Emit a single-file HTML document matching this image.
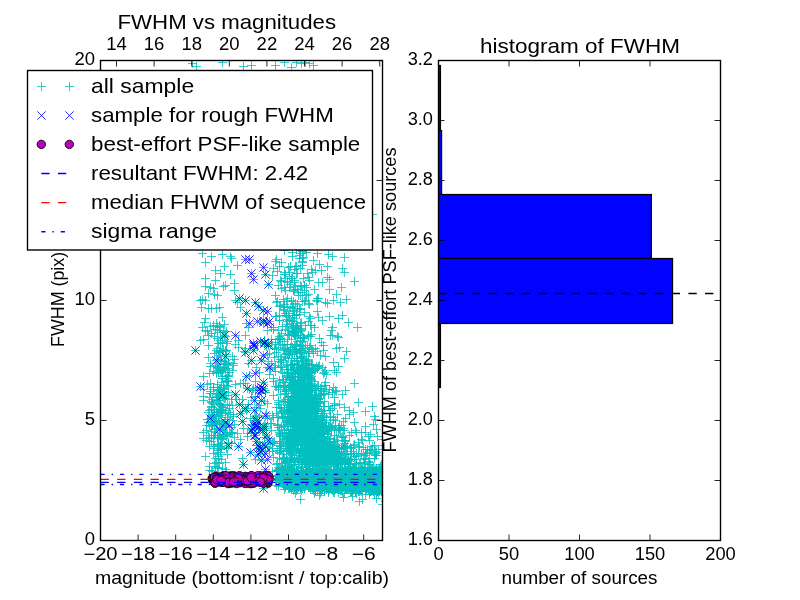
<!DOCTYPE html>
<html><head><meta charset="utf-8"><title>FWHM vs magnitudes</title>
<style>html,body{margin:0;padding:0;background:#fff;}body{width:800px;height:600px;overflow:hidden;font-family:"Liberation Sans",sans-serif;}svg{display:block;}text{font-family:"Liberation Sans",sans-serif;fill:#000;}svg{will-change:transform;opacity:.999}</style>
</head><body>
<svg width="800" height="600" viewBox="0 0 800 600">
<rect width="800" height="600" fill="#fff"/>
<defs><clipPath id="cl"><rect x="100.5" y="60.5" width="282.0" height="480.0"/></clipPath><clipPath id="cr"><rect x="438.5" y="60.5" width="282.0" height="480.0"/></clipPath></defs>
<g clip-path="url(#cl)">
<g stroke="#00bfbf" stroke-width="1" stroke-opacity="0.78" fill="none">
<path d="M295 258.5h9M299.5 254v9M288 247.5h9M292.5 243v9M298 251.5h9M302.5 247v9M280 250.5h9M284.5 246v9M287 278.5h9M291.5 274v9M299 278.5h9M303.5 274v9M284 267.5h9M288.5 263v9M303 273.5h9M307.5 269v9M304 277.5h9M308.5 273v9M297 286.5h9M301.5 282v9M285 287.5h9M289.5 283v9M293 304.5h9M297.5 300v9M287 300.5h9M291.5 296v9M298 292.5h9M302.5 288v9M273 301.5h9M277.5 297v9M279 299.5h9M283.5 295v9M280 307.5h9M284.5 303v9M295 309.5h9M299.5 305v9M282 315.5h9M286.5 311v9M290 311.5h9M294.5 307v9M287 323.5h9M291.5 319v9M304 321.5h9M308.5 317v9M300 312.5h9M304.5 308v9M288 306.5h9M292.5 302v9M223 341.5h9M227.5 337v9M218 337.5h9M222.5 333v9M241 335.5h9M245.5 331v9M293 325.5h9M297.5 321v9M280 341.5h9M284.5 337v9M288 327.5h9M292.5 323v9M290 334.5h9M294.5 330v9M289 332.5h9M293.5 328v9M297 329.5h9M301.5 325v9M298 337.5h9M302.5 333v9M298 341.5h9M302.5 337v9M290 334.5h9M294.5 330v9M307 334.5h9M311.5 330v9M296 335.5h9M300.5 331v9M310 327.5h9M314.5 323v9M215 351.5h9M219.5 347v9M215 352.5h9M219.5 348v9M222 350.5h9M226.5 346v9M204 345.5h9M208.5 341v9M213 359.5h9M217.5 355v9M263 354.5h9M267.5 350v9M296 356.5h9M300.5 352v9M316 355.5h9M320.5 351v9M278 345.5h9M282.5 341v9M274 347.5h9M278.5 343v9M292 349.5h9M296.5 345v9M297 352.5h9M301.5 348v9M294 364.5h9M298.5 360v9M290 351.5h9M294.5 347v9M308 349.5h9M312.5 345v9M291 349.5h9M295.5 345v9M292 348.5h9M296.5 344v9M293 364.5h9M297.5 360v9M304 360.5h9M308.5 356v9M303 363.5h9M307.5 359v9M297 357.5h9M301.5 353v9M262 346.5h9M266.5 342v9M272 349.5h9M276.5 345v9M231 384.5h9M235.5 380v9M236 383.5h9M240.5 379v9M213 367.5h9M217.5 363v9M223 380.5h9M227.5 376v9M209 371.5h9M213.5 367v9M229 365.5h9M233.5 361v9M213 366.5h9M217.5 362v9M265 368.5h9M269.5 364v9M303 369.5h9M307.5 365v9M296 382.5h9M300.5 378v9M293 376.5h9M297.5 372v9M297 368.5h9M301.5 364v9M307 380.5h9M311.5 376v9M298 384.5h9M302.5 380v9M305 370.5h9M309.5 366v9M297 383.5h9M301.5 379v9M286 382.5h9M290.5 378v9M296 368.5h9M300.5 364v9M298 367.5h9M302.5 363v9M293 372.5h9M297.5 368v9M298 377.5h9M302.5 373v9M278 379.5h9M282.5 375v9M277 367.5h9M281.5 363v9M306 379.5h9M310.5 375v9M303 379.5h9M307.5 375v9M282 369.5h9M286.5 365v9M293 383.5h9M297.5 379v9M305 367.5h9M309.5 363v9M312 366.5h9M316.5 362v9M271 371.5h9M275.5 367v9M305 375.5h9M309.5 371v9M289 370.5h9M293.5 366v9M288 382.5h9M292.5 378v9M286 378.5h9M290.5 374v9M220 391.5h9M224.5 387v9M199 400.5h9M203.5 396v9M220 395.5h9M224.5 391v9M216 389.5h9M220.5 385v9M214 393.5h9M218.5 389v9M221 398.5h9M225.5 394v9M213 396.5h9M217.5 392v9M213 400.5h9M217.5 396v9M214 390.5h9M218.5 386v9M219 397.5h9M223.5 393v9M253 387.5h9M257.5 383v9M245 389.5h9M249.5 385v9M308 400.5h9M312.5 396v9M303 400.5h9M307.5 396v9M311 401.5h9M315.5 397v9M305 386.5h9M309.5 382v9M286 401.5h9M290.5 397v9M306 404.5h9M310.5 400v9M288 400.5h9M292.5 396v9M297 404.5h9M301.5 400v9M295 395.5h9M299.5 391v9M289 397.5h9M293.5 393v9M314 403.5h9M318.5 399v9M287 403.5h9M291.5 399v9M289 403.5h9M293.5 399v9M297 404.5h9M301.5 400v9M301 402.5h9M305.5 398v9M300 398.5h9M304.5 394v9M290 398.5h9M294.5 394v9M301 390.5h9M305.5 386v9M295 402.5h9M299.5 398v9M284 402.5h9M288.5 398v9M306 386.5h9M310.5 382v9M300 400.5h9M304.5 396v9M288 396.5h9M292.5 392v9M328 392.5h9M332.5 388v9M317 394.5h9M321.5 390v9M304 388.5h9M308.5 384v9M295 404.5h9M299.5 400v9M305 385.5h9M309.5 381v9M302 387.5h9M306.5 383v9M306 388.5h9M310.5 384v9M315 402.5h9M319.5 398v9M286 387.5h9M290.5 383v9M296 391.5h9M300.5 387v9M284 404.5h9M288.5 400v9M316 393.5h9M320.5 389v9M303 396.5h9M307.5 392v9M320 401.5h9M324.5 397v9M290 402.5h9M294.5 398v9M310 396.5h9M314.5 392v9M304 396.5h9M308.5 392v9M299 403.5h9M303.5 399v9M274 400.5h9M278.5 396v9M292 390.5h9M296.5 386v9M221 413.5h9M225.5 409v9M214 415.5h9M218.5 411v9M207 409.5h9M211.5 405v9M214 412.5h9M218.5 408v9M211 421.5h9M215.5 417v9M228 405.5h9M232.5 401v9M210 414.5h9M214.5 410v9M212 411.5h9M216.5 407v9M219 423.5h9M223.5 419v9M204 412.5h9M208.5 408v9M207 422.5h9M211.5 418v9M207 421.5h9M211.5 417v9M252 415.5h9M256.5 411v9M246 418.5h9M250.5 414v9M292 424.5h9M296.5 420v9M306 421.5h9M310.5 417v9M310 411.5h9M314.5 407v9M322 422.5h9M326.5 418v9M287 409.5h9M291.5 405v9M296 407.5h9M300.5 403v9M298 405.5h9M302.5 401v9M309 408.5h9M313.5 404v9M310 410.5h9M314.5 406v9M292 420.5h9M296.5 416v9M297 416.5h9M301.5 412v9M282 420.5h9M286.5 416v9M291 409.5h9M295.5 405v9M305 408.5h9M309.5 404v9M299 418.5h9M303.5 414v9M300 420.5h9M304.5 416v9M320 413.5h9M324.5 409v9M277 407.5h9M281.5 403v9M300 412.5h9M304.5 408v9M277 412.5h9M281.5 408v9M293 414.5h9M297.5 410v9M296 407.5h9M300.5 403v9M294 416.5h9M298.5 412v9M313 410.5h9M317.5 406v9M305 420.5h9M309.5 416v9M303 405.5h9M307.5 401v9M295 406.5h9M299.5 402v9M319 422.5h9M323.5 418v9M309 408.5h9M313.5 404v9M316 424.5h9M320.5 420v9M285 410.5h9M289.5 406v9M290 415.5h9M294.5 411v9M310 410.5h9M314.5 406v9M309 422.5h9M313.5 418v9M312 416.5h9M316.5 412v9M295 413.5h9M299.5 409v9M301 421.5h9M305.5 417v9M301 423.5h9M305.5 419v9M302 416.5h9M306.5 412v9M309 408.5h9M313.5 404v9M310 412.5h9M314.5 408v9M292 416.5h9M296.5 412v9M309 410.5h9M313.5 406v9M302 420.5h9M306.5 416v9M301 415.5h9M305.5 411v9M294 409.5h9M298.5 405v9M307 411.5h9M311.5 407v9M295 414.5h9M299.5 410v9M319 406.5h9M323.5 402v9M311 413.5h9M315.5 409v9M289 407.5h9M293.5 403v9M316 424.5h9M320.5 420v9M268 415.5h9M272.5 411v9M306 414.5h9M310.5 410v9M281 413.5h9M285.5 409v9M283 422.5h9M287.5 418v9M287 424.5h9M291.5 420v9M283 405.5h9M287.5 401v9M275 407.5h9M279.5 403v9M226 433.5h9M230.5 429v9M225 432.5h9M229.5 428v9M202 430.5h9M206.5 426v9M214 437.5h9M218.5 433v9M218 439.5h9M222.5 435v9M218 430.5h9M222.5 426v9M207 441.5h9M211.5 437v9M205 441.5h9M209.5 437v9M199 438.5h9M203.5 434v9M211 432.5h9M215.5 428v9M261 426.5h9M265.5 422v9M302 433.5h9M306.5 429v9M292 431.5h9M296.5 427v9M292 441.5h9M296.5 437v9M302 438.5h9M306.5 434v9M305 426.5h9M309.5 422v9M309 431.5h9M313.5 427v9M292 426.5h9M296.5 422v9M291 436.5h9M295.5 432v9M295 430.5h9M299.5 426v9M316 437.5h9M320.5 433v9M296 430.5h9M300.5 426v9M289 430.5h9M293.5 426v9M295 436.5h9M299.5 432v9M292 429.5h9M296.5 425v9M340 443.5h9M344.5 439v9M292 426.5h9M296.5 422v9M288 438.5h9M292.5 434v9M299 436.5h9M303.5 432v9M297 438.5h9M301.5 434v9M309 434.5h9M313.5 430v9M306 429.5h9M310.5 425v9M307 428.5h9M311.5 424v9M287 439.5h9M291.5 435v9M309 443.5h9M313.5 439v9M301 428.5h9M305.5 424v9M305 428.5h9M309.5 424v9M304 441.5h9M308.5 437v9M311 444.5h9M315.5 440v9M296 434.5h9M300.5 430v9M300 438.5h9M304.5 434v9M309 437.5h9M313.5 433v9M301 438.5h9M305.5 434v9M309 437.5h9M313.5 433v9M304 428.5h9M308.5 424v9M285 442.5h9M289.5 438v9M287 443.5h9M291.5 439v9M320 439.5h9M324.5 435v9M289 437.5h9M293.5 433v9M282 439.5h9M286.5 435v9M310 439.5h9M314.5 435v9M312 431.5h9M316.5 427v9M283 437.5h9M287.5 433v9M287 435.5h9M291.5 431v9M304 426.5h9M308.5 422v9M292 440.5h9M296.5 436v9M290 438.5h9M294.5 434v9M292 430.5h9M296.5 426v9M304 437.5h9M308.5 433v9M303 429.5h9M307.5 425v9M321 427.5h9M325.5 423v9M297 431.5h9M301.5 427v9M318 433.5h9M322.5 429v9M326 444.5h9M330.5 440v9M300 433.5h9M304.5 429v9M287 444.5h9M291.5 440v9M302 430.5h9M306.5 426v9M309 427.5h9M313.5 423v9M308 436.5h9M312.5 432v9M303 441.5h9M307.5 437v9M269 442.5h9M273.5 438v9M304 426.5h9M308.5 422v9M279 441.5h9M283.5 437v9M337 425.5h9M341.5 421v9M310 437.5h9M314.5 433v9M317 427.5h9M321.5 423v9M327 427.5h9M331.5 423v9M320 442.5h9M324.5 438v9M336 430.5h9M340.5 426v9M288 435.5h9M292.5 431v9M266 444.5h9M270.5 440v9M309 438.5h9M313.5 434v9M285 433.5h9M289.5 429v9M338 436.5h9M342.5 432v9M358 440.5h9M362.5 436v9M361 426.5h9M365.5 422v9M217 448.5h9M221.5 444v9M214 456.5h9M218.5 452v9M213 450.5h9M217.5 446v9M223 454.5h9M227.5 450v9M311 457.5h9M315.5 453v9M325 463.5h9M329.5 459v9M307 445.5h9M311.5 441v9M345 464.5h9M349.5 460v9M321 445.5h9M325.5 441v9M311 455.5h9M315.5 451v9M297 464.5h9M301.5 460v9M357 453.5h9M361.5 449v9M298 464.5h9M302.5 460v9M329 446.5h9M333.5 442v9M290 464.5h9M294.5 460v9M341 458.5h9M345.5 454v9M317 463.5h9M321.5 459v9M327 460.5h9M331.5 456v9M345 461.5h9M349.5 457v9M314 445.5h9M318.5 441v9M326 451.5h9M330.5 447v9M301 459.5h9M305.5 455v9M331 460.5h9M335.5 456v9M327 447.5h9M331.5 443v9M309 449.5h9M313.5 445v9M323 460.5h9M327.5 456v9M309 455.5h9M313.5 451v9M334 460.5h9M338.5 456v9M317 452.5h9M321.5 448v9M325 447.5h9M329.5 443v9M318 446.5h9M322.5 442v9M323 453.5h9M327.5 449v9M303 457.5h9M307.5 453v9M299 450.5h9M303.5 446v9M330 462.5h9M334.5 458v9M301 452.5h9M305.5 448v9M301 461.5h9M305.5 457v9M329 461.5h9M333.5 457v9M309 455.5h9M313.5 451v9M322 460.5h9M326.5 456v9M309 462.5h9M313.5 458v9M295 453.5h9M299.5 449v9M311 453.5h9M315.5 449v9M283 462.5h9M287.5 458v9M303 455.5h9M307.5 451v9M304 452.5h9M308.5 448v9M305 457.5h9M309.5 453v9M314 459.5h9M318.5 455v9M300 459.5h9M304.5 455v9M326 447.5h9M330.5 443v9M326 448.5h9M330.5 444v9M310 454.5h9M314.5 450v9M328 458.5h9M332.5 454v9M286 453.5h9M290.5 449v9M292 451.5h9M296.5 447v9M331 452.5h9M335.5 448v9M295 452.5h9M299.5 448v9M310 446.5h9M314.5 442v9M306 446.5h9M310.5 442v9M291 445.5h9M295.5 441v9M297 452.5h9M301.5 448v9M323 452.5h9M327.5 448v9M324 451.5h9M328.5 447v9M312 460.5h9M316.5 456v9M303 457.5h9M307.5 453v9M300 450.5h9M304.5 446v9M304 456.5h9M308.5 452v9M336 459.5h9M340.5 455v9M330 463.5h9M334.5 459v9M308 459.5h9M312.5 455v9M323 445.5h9M327.5 441v9M298 448.5h9M302.5 444v9M318 463.5h9M322.5 459v9M316 461.5h9M320.5 457v9M294 448.5h9M298.5 444v9M344 464.5h9M348.5 460v9M322 457.5h9M326.5 453v9M299 451.5h9M303.5 447v9M335 458.5h9M339.5 454v9M352 456.5h9M356.5 452v9M359 447.5h9M363.5 443v9M286 448.5h9M290.5 444v9M288 446.5h9M292.5 442v9M330 453.5h9M334.5 449v9M323 446.5h9M327.5 442v9M279 458.5h9M283.5 454v9M288 458.5h9M292.5 454v9M279 451.5h9M283.5 447v9M346 459.5h9M350.5 455v9M320 448.5h9M324.5 444v9M333 460.5h9M337.5 456v9M340 459.5h9M344.5 455v9M282 451.5h9M286.5 447v9M290 450.5h9M294.5 446v9M303 452.5h9M307.5 448v9M320 451.5h9M324.5 447v9M329 452.5h9M333.5 448v9M276 450.5h9M280.5 446v9M361 455.5h9M365.5 451v9M371 451.5h9M375.5 447v9M378 445.5h9M382.5 441v9M327 481.5h9M331.5 477v9M305 480.5h9M309.5 476v9M323 469.5h9M327.5 465v9M378 464.5h9M382.5 460v9M356 476.5h9M360.5 472v9M356 472.5h9M360.5 468v9M283 483.5h9M287.5 479v9M368 468.5h9M372.5 464v9M290 476.5h9M294.5 472v9M334 472.5h9M338.5 468v9M326 480.5h9M330.5 476v9M321 473.5h9M325.5 469v9M321 474.5h9M325.5 470v9M293 470.5h9M297.5 466v9M281 475.5h9M285.5 471v9M345 471.5h9M349.5 467v9M296 474.5h9M300.5 470v9M276 478.5h9M280.5 474v9M339 474.5h9M343.5 470v9M327 478.5h9M331.5 474v9M378 468.5h9M382.5 464v9M281 487.5h9M285.5 483v9M364 484.5h9M368.5 480v9M335 480.5h9M339.5 476v9M322 476.5h9M326.5 472v9M274 467.5h9M278.5 463v9M332 486.5h9M336.5 482v9M361 483.5h9M365.5 479v9M272 476.5h9M276.5 472v9M311 476.5h9M315.5 472v9M325 477.5h9M329.5 473v9M298 473.5h9M302.5 469v9M337 476.5h9M341.5 472v9M329 473.5h9M333.5 469v9M328 474.5h9M332.5 470v9M363 472.5h9M367.5 468v9M306 469.5h9M310.5 465v9M283 484.5h9M287.5 480v9M317 476.5h9M321.5 472v9M365 471.5h9M369.5 467v9M318 467.5h9M322.5 463v9M382 484.5h9M386.5 480v9M359 483.5h9M363.5 479v9M310 477.5h9M314.5 473v9M370 484.5h9M374.5 480v9M277 476.5h9M281.5 472v9M337 488.5h9M341.5 484v9M305 471.5h9M309.5 467v9M333 470.5h9M337.5 466v9M353 480.5h9M357.5 476v9M374 484.5h9M378.5 480v9M370 479.5h9M374.5 475v9M324 478.5h9M328.5 474v9M321 475.5h9M325.5 471v9M373 480.5h9M377.5 476v9M358 471.5h9M362.5 467v9M339 482.5h9M343.5 478v9M284 488.5h9M288.5 484v9M364 474.5h9M368.5 470v9M320 474.5h9M324.5 470v9M292 473.5h9M296.5 469v9M370 470.5h9M374.5 466v9M275 471.5h9M279.5 467v9M350 470.5h9M354.5 466v9M339 477.5h9M343.5 473v9M293 471.5h9M297.5 467v9M368 475.5h9M372.5 471v9M321 481.5h9M325.5 477v9M297 480.5h9M301.5 476v9M360 468.5h9M364.5 464v9M379 485.5h9M383.5 481v9M276 472.5h9M280.5 468v9M332 465.5h9M336.5 461v9M320 482.5h9M324.5 478v9M351 474.5h9M355.5 470v9M355 471.5h9M359.5 467v9M332 479.5h9M336.5 475v9M287 481.5h9M291.5 477v9M314 476.5h9M318.5 472v9M278 471.5h9M282.5 467v9M328 481.5h9M332.5 477v9M384 465.5h9M388.5 461v9M323 477.5h9M327.5 473v9M310 474.5h9M314.5 470v9M318 475.5h9M322.5 471v9M375 480.5h9M379.5 476v9M382 473.5h9M386.5 469v9M371 477.5h9M375.5 473v9M316 476.5h9M320.5 472v9M347 483.5h9M351.5 479v9M338 477.5h9M342.5 473v9M345 473.5h9M349.5 469v9M344 485.5h9M348.5 481v9M365 481.5h9M369.5 477v9M306 473.5h9M310.5 469v9M280 481.5h9M284.5 477v9M382 480.5h9M386.5 476v9M351 473.5h9M355.5 469v9M361 473.5h9M365.5 469v9M333 470.5h9M337.5 466v9M298 476.5h9M302.5 472v9M372 480.5h9M376.5 476v9M291 478.5h9M295.5 474v9M340 471.5h9M344.5 467v9M280 479.5h9M284.5 475v9M346 466.5h9M350.5 462v9M360 483.5h9M364.5 479v9M330 477.5h9M334.5 473v9M374 478.5h9M378.5 474v9M312 486.5h9M316.5 482v9M355 477.5h9M359.5 473v9M348 475.5h9M352.5 471v9M310 465.5h9M314.5 461v9M330 472.5h9M334.5 468v9M376 482.5h9M380.5 478v9M379 474.5h9M383.5 470v9M303 474.5h9M307.5 470v9M357 474.5h9M361.5 470v9M273 475.5h9M277.5 471v9M375 477.5h9M379.5 473v9M274 470.5h9M278.5 466v9M374 473.5h9M378.5 469v9M376 470.5h9M380.5 466v9M337 480.5h9M341.5 476v9M374 473.5h9M378.5 469v9M303 471.5h9M307.5 467v9M330 475.5h9M334.5 471v9M353 485.5h9M357.5 481v9M329 476.5h9M333.5 472v9M304 475.5h9M308.5 471v9M345 476.5h9M349.5 472v9M346 473.5h9M350.5 469v9M308 482.5h9M312.5 478v9M289 474.5h9M293.5 470v9M356 477.5h9M360.5 473v9M321 477.5h9M325.5 473v9M316 471.5h9M320.5 467v9M340 475.5h9M344.5 471v9M289 471.5h9M293.5 467v9M307 472.5h9M311.5 468v9M311 479.5h9M315.5 475v9M379 470.5h9M383.5 466v9M338 464.5h9M342.5 460v9M357 477.5h9M361.5 473v9M315 472.5h9M319.5 468v9M370 473.5h9M374.5 469v9M347 481.5h9M351.5 477v9M290 486.5h9M294.5 482v9M350 474.5h9M354.5 470v9M289 484.5h9M293.5 480v9M211 466.5h9M215.5 462v9M214 467.5h9M218.5 463v9M346 491.5h9M350.5 487v9M354 491.5h9M358.5 487v9M371 490.5h9M375.5 486v9M350 486.5h9M354.5 482v9M366 487.5h9M370.5 483v9M324 492.5h9M328.5 488v9M286 487.5h9M290.5 483v9M310 493.5h9M314.5 489v9M309 490.5h9M313.5 486v9M318 489.5h9M322.5 485v9M371 487.5h9M375.5 483v9M315 495.5h9M319.5 491v9M343 488.5h9M347.5 484v9M371 488.5h9M375.5 484v9M381 501.5h9M385.5 497v9M294 487.5h9M298.5 483v9M290 487.5h9M294.5 483v9M331 489.5h9M335.5 485v9M329 488.5h9M333.5 484v9M339 487.5h9M343.5 483v9M315 486.5h9M319.5 482v9M369 491.5h9M373.5 487v9M297 484.5h9M301.5 480v9M312 483.5h9M316.5 479v9M284 484.5h9M288.5 480v9M303 483.5h9M307.5 479v9M318 488.5h9M322.5 484v9M299 484.5h9M303.5 480v9M349 484.5h9M353.5 480v9M345 487.5h9M349.5 483v9M370 487.5h9M374.5 483v9M314 483.5h9M318.5 479v9M340 484.5h9M344.5 480v9M358 483.5h9M362.5 479v9M370 492.5h9M374.5 488v9M346 483.5h9M350.5 479v9M348 486.5h9M352.5 482v9M290 485.5h9M294.5 481v9M322 489.5h9M326.5 485v9M298 483.5h9M302.5 479v9M325 489.5h9M329.5 485v9M337 490.5h9M341.5 486v9M296 487.5h9M300.5 483v9M364 483.5h9M368.5 479v9M337 484.5h9M341.5 480v9M297 487.5h9M301.5 483v9M352 488.5h9M356.5 484v9M360 487.5h9M364.5 483v9M330 483.5h9M334.5 479v9M360 486.5h9M364.5 482v9M284 484.5h9M288.5 480v9M327 489.5h9M331.5 485v9M347 491.5h9M351.5 487v9M379 492.5h9M383.5 488v9M340 484.5h9M344.5 480v9M363 487.5h9M367.5 483v9M358 486.5h9M362.5 482v9M333 487.5h9M337.5 483v9M336 487.5h9M340.5 483v9M365 489.5h9M369.5 485v9M319 486.5h9M323.5 482v9M296 499.5h9M300.5 495v9M271 65.5h9M275.5 61v9M305 63.5h9M309.5 59v9M313 253.5h9M317.5 249v9M308 272.5h9M312.5 268v9M314 282.5h9M318.5 278v9M329 300.5h9M333.5 296v9M325 316.5h9M329.5 312v9M328 327.5h9M332.5 323v9M334 337.5h9M338.5 333v9M340 358.5h9M344.5 354v9M314 366.5h9M318.5 362v9M328 392.5h9M332.5 388v9M345 410.5h9M349.5 406v9M350 422.5h9M354.5 418v9M357 439.5h9M361.5 435v9M207 256.5h9M211.5 252v9M233 265.5h9M237.5 261v9M230 283.5h9M234.5 279v9M230 290.5h9M234.5 286v9M196 300.5h9M200.5 296v9M207 308.5h9M211.5 304v9M212 323.5h9M216.5 319v9M201 330.5h9M205.5 326v9M204 335.5h9M208.5 331v9M271 261.5h9M275.5 257v9M245 259.5h9M249.5 255v9M235 298.5h9M239.5 294v9M242 313.5h9M246.5 309v9M220 335.5h9M224.5 331v9M191 350.5h9M195.5 346v9M264 345.5h9M268.5 341v9M242 376.5h9M246.5 372v9M218 395.5h9M222.5 391v9M250 410.5h9M254.5 406v9M221 422.5h9M225.5 418v9M250 435.5h9M254.5 431v9M251 435.5h9M255.5 431v9M246 452.5h9M250.5 448v9M261 469.5h9M265.5 465v9M255 393.5h9M259.5 389v9M261 446.5h9M265.5 442v9"/>
<path d="M299 246.5h9M303.5 242v9M301 249.5h9M305.5 245v9M298 261.5h9M302.5 257v9M298 258.5h9M302.5 254v9M290 280.5h9M294.5 276v9M286 266.5h9M290.5 262v9M291 266.5h9M295.5 262v9M283 282.5h9M287.5 278v9M292 266.5h9M296.5 262v9M300 285.5h9M304.5 281v9M300 301.5h9M304.5 297v9M294 295.5h9M298.5 291v9M296 295.5h9M300.5 291v9M274 285.5h9M278.5 281v9M283 298.5h9M287.5 294v9M280 287.5h9M284.5 283v9M314 317.5h9M318.5 313v9M281 313.5h9M285.5 309v9M276 305.5h9M280.5 301v9M275 320.5h9M279.5 316v9M275 315.5h9M279.5 311v9M275 306.5h9M279.5 302v9M293 308.5h9M297.5 304v9M231 344.5h9M235.5 340v9M216 343.5h9M220.5 339v9M218 342.5h9M222.5 338v9M244 327.5h9M248.5 323v9M297 330.5h9M301.5 326v9M294 332.5h9M298.5 328v9M292 326.5h9M296.5 322v9M297 328.5h9M301.5 324v9M290 334.5h9M294.5 330v9M291 336.5h9M295.5 332v9M301 325.5h9M305.5 321v9M275 336.5h9M279.5 332v9M260 340.5h9M264.5 336v9M296 340.5h9M300.5 336v9M284 334.5h9M288.5 330v9M292 344.5h9M296.5 340v9M221 351.5h9M225.5 347v9M224 364.5h9M228.5 360v9M214 355.5h9M218.5 351v9M213 359.5h9M217.5 355v9M222 364.5h9M226.5 360v9M244 363.5h9M248.5 359v9M304 353.5h9M308.5 349v9M280 349.5h9M284.5 345v9M288 354.5h9M292.5 350v9M299 358.5h9M303.5 354v9M304 351.5h9M308.5 347v9M295 345.5h9M299.5 341v9M290 345.5h9M294.5 341v9M281 348.5h9M285.5 344v9M293 364.5h9M297.5 360v9M297 346.5h9M301.5 342v9M306 345.5h9M310.5 341v9M272 352.5h9M276.5 348v9M267 363.5h9M271.5 359v9M296 349.5h9M300.5 345v9M279 360.5h9M283.5 356v9M288 349.5h9M292.5 345v9M217 382.5h9M221.5 378v9M224 381.5h9M228.5 377v9M205 373.5h9M209.5 369v9M218 376.5h9M222.5 372v9M214 367.5h9M218.5 363v9M223 376.5h9M227.5 372v9M223 381.5h9M227.5 377v9M255 372.5h9M259.5 368v9M241 383.5h9M245.5 379v9M307 373.5h9M311.5 369v9M308 365.5h9M312.5 361v9M303 373.5h9M307.5 369v9M287 374.5h9M291.5 370v9M302 375.5h9M306.5 371v9M291 374.5h9M295.5 370v9M310 381.5h9M314.5 377v9M300 378.5h9M304.5 374v9M292 367.5h9M296.5 363v9M287 379.5h9M291.5 375v9M296 377.5h9M300.5 373v9M298 369.5h9M302.5 365v9M298 382.5h9M302.5 378v9M302 369.5h9M306.5 365v9M290 368.5h9M294.5 364v9M287 365.5h9M291.5 361v9M297 378.5h9M301.5 374v9M279 382.5h9M283.5 378v9M301 377.5h9M305.5 373v9M270 367.5h9M274.5 363v9M307 383.5h9M311.5 379v9M286 365.5h9M290.5 361v9M281 382.5h9M285.5 378v9M321 370.5h9M325.5 366v9M266 369.5h9M270.5 365v9M310 368.5h9M314.5 364v9M222 395.5h9M226.5 391v9M232 399.5h9M236.5 395v9M205 397.5h9M209.5 393v9M208 399.5h9M212.5 395v9M214 400.5h9M218.5 396v9M214 400.5h9M218.5 396v9M216 395.5h9M220.5 391v9M209 387.5h9M213.5 383v9M209 389.5h9M213.5 385v9M251 396.5h9M255.5 392v9M261 392.5h9M265.5 388v9M282 391.5h9M286.5 387v9M281 387.5h9M285.5 383v9M304 391.5h9M308.5 387v9M289 388.5h9M293.5 384v9M307 394.5h9M311.5 390v9M293 392.5h9M297.5 388v9M295 395.5h9M299.5 391v9M300 389.5h9M304.5 385v9M309 398.5h9M313.5 394v9M280 385.5h9M284.5 381v9M290 398.5h9M294.5 394v9M302 398.5h9M306.5 394v9M304 386.5h9M308.5 382v9M306 404.5h9M310.5 400v9M294 386.5h9M298.5 382v9M284 399.5h9M288.5 395v9M299 401.5h9M303.5 397v9M294 387.5h9M298.5 383v9M287 386.5h9M291.5 382v9M307 392.5h9M311.5 388v9M290 385.5h9M294.5 381v9M294 396.5h9M298.5 392v9M305 400.5h9M309.5 396v9M297 388.5h9M301.5 384v9M307 387.5h9M311.5 383v9M297 396.5h9M301.5 392v9M300 386.5h9M304.5 382v9M301 390.5h9M305.5 386v9M298 390.5h9M302.5 386v9M298 400.5h9M302.5 396v9M306 389.5h9M310.5 385v9M291 387.5h9M295.5 383v9M300 389.5h9M304.5 385v9M316 388.5h9M320.5 384v9M330 403.5h9M334.5 399v9M322 389.5h9M326.5 385v9M274 386.5h9M278.5 382v9M291 388.5h9M295.5 384v9M324 394.5h9M328.5 390v9M303 395.5h9M307.5 391v9M311 388.5h9M315.5 384v9M316 401.5h9M320.5 397v9M330 397.5h9M334.5 393v9M289 397.5h9M293.5 393v9M221 410.5h9M225.5 406v9M208 417.5h9M212.5 413v9M229 416.5h9M233.5 412v9M218 413.5h9M222.5 409v9M207 421.5h9M211.5 417v9M228 420.5h9M232.5 416v9M223 419.5h9M227.5 415v9M218 407.5h9M222.5 403v9M225 405.5h9M229.5 401v9M215 412.5h9M219.5 408v9M213 424.5h9M217.5 420v9M252 407.5h9M256.5 403v9M243 408.5h9M247.5 404v9M238 411.5h9M242.5 407v9M290 416.5h9M294.5 412v9M287 406.5h9M291.5 402v9M292 413.5h9M296.5 409v9M306 411.5h9M310.5 407v9M310 411.5h9M314.5 407v9M312 415.5h9M316.5 411v9M307 418.5h9M311.5 414v9M284 412.5h9M288.5 408v9M311 422.5h9M315.5 418v9M297 412.5h9M301.5 408v9M295 412.5h9M299.5 408v9M312 422.5h9M316.5 418v9M286 421.5h9M290.5 417v9M301 411.5h9M305.5 407v9M310 411.5h9M314.5 407v9M304 409.5h9M308.5 405v9M312 423.5h9M316.5 419v9M298 420.5h9M302.5 416v9M303 413.5h9M307.5 409v9M307 410.5h9M311.5 406v9M288 420.5h9M292.5 416v9M289 411.5h9M293.5 407v9M272 407.5h9M276.5 403v9M294 409.5h9M298.5 405v9M297 421.5h9M301.5 417v9M293 416.5h9M297.5 412v9M312 418.5h9M316.5 414v9M300 420.5h9M304.5 416v9M280 410.5h9M284.5 406v9M289 424.5h9M293.5 420v9M301 411.5h9M305.5 407v9M294 416.5h9M298.5 412v9M306 414.5h9M310.5 410v9M304 416.5h9M308.5 412v9M322 420.5h9M326.5 416v9M314 422.5h9M318.5 418v9M284 407.5h9M288.5 403v9M295 418.5h9M299.5 414v9M293 410.5h9M297.5 406v9M300 415.5h9M304.5 411v9M316 422.5h9M320.5 418v9M308 412.5h9M312.5 408v9M311 410.5h9M315.5 406v9M279 417.5h9M283.5 413v9M283 417.5h9M287.5 413v9M305 411.5h9M309.5 407v9M303 419.5h9M307.5 415v9M326 410.5h9M330.5 406v9M320 422.5h9M324.5 418v9M269 417.5h9M273.5 413v9M319 406.5h9M323.5 402v9M301 410.5h9M305.5 406v9M304 408.5h9M308.5 404v9M292 423.5h9M296.5 419v9M284 409.5h9M288.5 405v9M280 418.5h9M284.5 414v9M266 423.5h9M270.5 419v9M295 409.5h9M299.5 405v9M345 414.5h9M349.5 410v9M219 436.5h9M223.5 432v9M207 431.5h9M211.5 427v9M205 437.5h9M209.5 433v9M210 435.5h9M214.5 431v9M228 432.5h9M232.5 428v9M227 443.5h9M231.5 439v9M215 429.5h9M219.5 425v9M227 427.5h9M231.5 423v9M233 433.5h9M237.5 429v9M222 425.5h9M226.5 421v9M255 442.5h9M259.5 438v9M295 437.5h9M299.5 433v9M317 426.5h9M321.5 422v9M308 433.5h9M312.5 429v9M307 436.5h9M311.5 432v9M289 438.5h9M293.5 434v9M300 435.5h9M304.5 431v9M304 431.5h9M308.5 427v9M308 432.5h9M312.5 428v9M300 440.5h9M304.5 436v9M309 425.5h9M313.5 421v9M289 429.5h9M293.5 425v9M313 443.5h9M317.5 439v9M299 428.5h9M303.5 424v9M316 435.5h9M320.5 431v9M286 435.5h9M290.5 431v9M296 427.5h9M300.5 423v9M328 426.5h9M332.5 422v9M303 440.5h9M307.5 436v9M314 428.5h9M318.5 424v9M300 435.5h9M304.5 431v9M310 442.5h9M314.5 438v9M324 430.5h9M328.5 426v9M293 426.5h9M297.5 422v9M292 425.5h9M296.5 421v9M310 429.5h9M314.5 425v9M287 437.5h9M291.5 433v9M298 443.5h9M302.5 439v9M297 435.5h9M301.5 431v9M307 443.5h9M311.5 439v9M307 441.5h9M311.5 437v9M293 434.5h9M297.5 430v9M292 441.5h9M296.5 437v9M329 442.5h9M333.5 438v9M304 443.5h9M308.5 439v9M324 438.5h9M328.5 434v9M302 434.5h9M306.5 430v9M292 425.5h9M296.5 421v9M317 430.5h9M321.5 426v9M326 438.5h9M330.5 434v9M300 428.5h9M304.5 424v9M302 433.5h9M306.5 429v9M312 440.5h9M316.5 436v9M325 430.5h9M329.5 426v9M313 435.5h9M317.5 431v9M291 432.5h9M295.5 428v9M302 443.5h9M306.5 439v9M313 441.5h9M317.5 437v9M282 442.5h9M286.5 438v9M313 426.5h9M317.5 422v9M305 430.5h9M309.5 426v9M297 436.5h9M301.5 432v9M307 426.5h9M311.5 422v9M304 431.5h9M308.5 427v9M311 430.5h9M315.5 426v9M298 439.5h9M302.5 435v9M288 432.5h9M292.5 428v9M292 427.5h9M296.5 423v9M309 435.5h9M313.5 431v9M293 441.5h9M297.5 437v9M307 437.5h9M311.5 433v9M304 433.5h9M308.5 429v9M318 439.5h9M322.5 435v9M326 427.5h9M330.5 423v9M309 440.5h9M313.5 436v9M345 435.5h9M349.5 431v9M320 436.5h9M324.5 432v9M277 443.5h9M281.5 439v9M285 433.5h9M289.5 429v9M339 428.5h9M343.5 424v9M284 433.5h9M288.5 429v9M286 426.5h9M290.5 422v9M325 426.5h9M329.5 422v9M321 428.5h9M325.5 424v9M352 432.5h9M356.5 428v9M214 458.5h9M218.5 454v9M216 449.5h9M220.5 445v9M221 462.5h9M225.5 458v9M215 463.5h9M219.5 459v9M222 448.5h9M226.5 444v9M308 461.5h9M312.5 457v9M324 445.5h9M328.5 441v9M325 454.5h9M329.5 450v9M302 464.5h9M306.5 460v9M303 454.5h9M307.5 450v9M283 446.5h9M287.5 442v9M309 453.5h9M313.5 449v9M281 461.5h9M285.5 457v9M316 462.5h9M320.5 458v9M312 454.5h9M316.5 450v9M316 453.5h9M320.5 449v9M314 449.5h9M318.5 445v9M299 459.5h9M303.5 455v9M326 457.5h9M330.5 453v9M330 448.5h9M334.5 444v9M315 459.5h9M319.5 455v9M297 450.5h9M301.5 446v9M303 448.5h9M307.5 444v9M316 456.5h9M320.5 452v9M321 447.5h9M325.5 443v9M307 458.5h9M311.5 454v9M326 464.5h9M330.5 460v9M336 462.5h9M340.5 458v9M319 452.5h9M323.5 448v9M277 463.5h9M281.5 459v9M290 450.5h9M294.5 446v9M307 447.5h9M311.5 443v9M309 449.5h9M313.5 445v9M309 459.5h9M313.5 455v9M263 447.5h9M267.5 443v9M311 460.5h9M315.5 456v9M304 447.5h9M308.5 443v9M341 460.5h9M345.5 456v9M295 461.5h9M299.5 457v9M299 460.5h9M303.5 456v9M314 446.5h9M318.5 442v9M278 459.5h9M282.5 455v9M332 449.5h9M336.5 445v9M310 446.5h9M314.5 442v9M332 452.5h9M336.5 448v9M309 464.5h9M313.5 460v9M324 445.5h9M328.5 441v9M319 457.5h9M323.5 453v9M313 450.5h9M317.5 446v9M310 461.5h9M314.5 457v9M290 464.5h9M294.5 460v9M315 448.5h9M319.5 444v9M321 447.5h9M325.5 443v9M306 462.5h9M310.5 458v9M307 458.5h9M311.5 454v9M334 453.5h9M338.5 449v9M326 455.5h9M330.5 451v9M301 463.5h9M305.5 459v9M317 449.5h9M321.5 445v9M330 448.5h9M334.5 444v9M322 445.5h9M326.5 441v9M331 452.5h9M335.5 448v9M313 455.5h9M317.5 451v9M281 462.5h9M285.5 458v9M312 460.5h9M316.5 456v9M307 450.5h9M311.5 446v9M306 462.5h9M310.5 458v9M332 453.5h9M336.5 449v9M312 457.5h9M316.5 453v9M331 456.5h9M335.5 452v9M329 446.5h9M333.5 442v9M306 462.5h9M310.5 458v9M334 447.5h9M338.5 443v9M320 457.5h9M324.5 453v9M302 449.5h9M306.5 445v9M326 454.5h9M330.5 450v9M323 456.5h9M327.5 452v9M275 458.5h9M279.5 454v9M326 464.5h9M330.5 460v9M361 458.5h9M365.5 454v9M347 448.5h9M351.5 444v9M337 452.5h9M341.5 448v9M277 448.5h9M281.5 444v9M310 460.5h9M314.5 456v9M289 449.5h9M293.5 445v9M314 459.5h9M318.5 455v9M360 458.5h9M364.5 454v9M315 463.5h9M319.5 459v9M268 451.5h9M272.5 447v9M275 445.5h9M279.5 441v9M314 452.5h9M318.5 448v9M316 455.5h9M320.5 451v9M288 458.5h9M292.5 454v9M279 454.5h9M283.5 450v9M356 462.5h9M360.5 458v9M265 451.5h9M269.5 447v9M269 457.5h9M273.5 453v9M273 450.5h9M277.5 446v9M368 446.5h9M372.5 442v9M367 449.5h9M371.5 445v9M377 464.5h9M381.5 460v9M370 458.5h9M374.5 454v9M284 476.5h9M288.5 472v9M361 474.5h9M365.5 470v9M332 473.5h9M336.5 469v9M322 472.5h9M326.5 468v9M376 484.5h9M380.5 480v9M293 482.5h9M297.5 478v9M323 480.5h9M327.5 476v9M357 478.5h9M361.5 474v9M315 475.5h9M319.5 471v9M329 478.5h9M333.5 474v9M320 482.5h9M324.5 478v9M314 481.5h9M318.5 477v9M335 474.5h9M339.5 470v9M348 476.5h9M352.5 472v9M350 478.5h9M354.5 474v9M355 478.5h9M359.5 474v9M271 479.5h9M275.5 475v9M284 477.5h9M288.5 473v9M279 469.5h9M283.5 465v9M324 475.5h9M328.5 471v9M339 480.5h9M343.5 476v9M313 478.5h9M317.5 474v9M356 472.5h9M360.5 468v9M287 482.5h9M291.5 478v9M298 477.5h9M302.5 473v9M343 473.5h9M347.5 469v9M316 478.5h9M320.5 474v9M371 477.5h9M375.5 473v9M372 481.5h9M376.5 477v9M274 480.5h9M278.5 476v9M354 469.5h9M358.5 465v9M306 469.5h9M310.5 465v9M329 464.5h9M333.5 460v9M342 473.5h9M346.5 469v9M361 479.5h9M365.5 475v9M376 472.5h9M380.5 468v9M363 474.5h9M367.5 470v9M325 473.5h9M329.5 469v9M311 484.5h9M315.5 480v9M321 470.5h9M325.5 466v9M317 480.5h9M321.5 476v9M345 472.5h9M349.5 468v9M295 479.5h9M299.5 475v9M372 472.5h9M376.5 468v9M318 474.5h9M322.5 470v9M351 473.5h9M355.5 469v9M342 474.5h9M346.5 470v9M351 471.5h9M355.5 467v9M278 472.5h9M282.5 468v9M313 478.5h9M317.5 474v9M346 474.5h9M350.5 470v9M285 477.5h9M289.5 473v9M368 474.5h9M372.5 470v9M353 477.5h9M357.5 473v9M373 486.5h9M377.5 482v9M343 480.5h9M347.5 476v9M377 475.5h9M381.5 471v9M354 478.5h9M358.5 474v9M345 476.5h9M349.5 472v9M299 476.5h9M303.5 472v9M359 479.5h9M363.5 475v9M332 476.5h9M336.5 472v9M320 473.5h9M324.5 469v9M316 484.5h9M320.5 480v9M373 474.5h9M377.5 470v9M378 474.5h9M382.5 470v9M336 484.5h9M340.5 480v9M365 481.5h9M369.5 477v9M347 475.5h9M351.5 471v9M368 473.5h9M372.5 469v9M285 472.5h9M289.5 468v9M287 480.5h9M291.5 476v9M330 478.5h9M334.5 474v9M309 478.5h9M313.5 474v9M337 478.5h9M341.5 474v9M314 483.5h9M318.5 479v9M370 471.5h9M374.5 467v9M344 468.5h9M348.5 464v9M378 468.5h9M382.5 464v9M327 473.5h9M331.5 469v9M361 474.5h9M365.5 470v9M298 477.5h9M302.5 473v9M322 473.5h9M326.5 469v9M361 485.5h9M365.5 481v9M377 477.5h9M381.5 473v9M337 483.5h9M341.5 479v9M295 474.5h9M299.5 470v9M315 473.5h9M319.5 469v9M292 468.5h9M296.5 464v9M297 480.5h9M301.5 476v9M317 472.5h9M321.5 468v9M312 475.5h9M316.5 471v9M321 474.5h9M325.5 470v9M313 475.5h9M317.5 471v9M274 479.5h9M278.5 475v9M361 475.5h9M365.5 471v9M297 480.5h9M301.5 476v9M365 469.5h9M369.5 465v9M333 478.5h9M337.5 474v9M358 476.5h9M362.5 472v9M298 480.5h9M302.5 476v9M336 478.5h9M340.5 474v9M369 467.5h9M373.5 463v9M366 472.5h9M370.5 468v9M343 480.5h9M347.5 476v9M378 472.5h9M382.5 468v9M330 474.5h9M334.5 470v9M268 471.5h9M272.5 467v9M375 470.5h9M379.5 466v9M297 481.5h9M301.5 477v9M325 478.5h9M329.5 474v9M370 474.5h9M374.5 470v9M374 475.5h9M378.5 471v9M304 475.5h9M308.5 471v9M273 475.5h9M277.5 471v9M359 470.5h9M363.5 466v9M362 472.5h9M366.5 468v9M376 474.5h9M380.5 470v9M340 470.5h9M344.5 466v9M348 477.5h9M352.5 473v9M367 472.5h9M371.5 468v9M276 469.5h9M280.5 465v9M364 478.5h9M368.5 474v9M289 476.5h9M293.5 472v9M325 482.5h9M329.5 478v9M277 476.5h9M281.5 472v9M324 480.5h9M328.5 476v9M332 466.5h9M336.5 462v9M296 471.5h9M300.5 467v9M365 474.5h9M369.5 470v9M368 480.5h9M372.5 476v9M358 470.5h9M362.5 466v9M329 472.5h9M333.5 468v9M345 479.5h9M349.5 475v9M315 474.5h9M319.5 470v9M290 478.5h9M294.5 474v9M324 478.5h9M328.5 474v9M383 467.5h9M387.5 463v9M367 482.5h9M371.5 478v9M343 476.5h9M347.5 472v9M376 471.5h9M380.5 467v9M278 474.5h9M282.5 470v9M304 471.5h9M308.5 467v9M357 470.5h9M361.5 466v9M372 475.5h9M376.5 471v9M356 470.5h9M360.5 466v9M334 476.5h9M338.5 472v9M322 482.5h9M326.5 478v9M318 481.5h9M322.5 477v9M375 485.5h9M379.5 481v9M213 468.5h9M217.5 464v9M316 486.5h9M320.5 482v9M308 487.5h9M312.5 483v9M317 490.5h9M321.5 486v9M320 491.5h9M324.5 487v9M313 490.5h9M317.5 486v9M309 487.5h9M313.5 483v9M333 489.5h9M337.5 485v9M328 489.5h9M332.5 485v9M375 491.5h9M379.5 487v9M377 488.5h9M381.5 484v9M298 488.5h9M302.5 484v9M298 486.5h9M302.5 482v9M326 488.5h9M330.5 484v9M361 487.5h9M365.5 483v9M313 486.5h9M317.5 482v9M315 488.5h9M319.5 484v9M297 490.5h9M301.5 486v9M377 488.5h9M381.5 484v9M306 489.5h9M310.5 485v9M333 485.5h9M337.5 481v9M326 486.5h9M330.5 482v9M309 488.5h9M313.5 484v9M311 483.5h9M315.5 479v9M279 483.5h9M283.5 479v9M365 490.5h9M369.5 486v9M322 489.5h9M326.5 485v9M335 483.5h9M339.5 479v9M289 486.5h9M293.5 482v9M300 487.5h9M304.5 483v9M283 485.5h9M287.5 481v9M358 487.5h9M362.5 483v9M366 484.5h9M370.5 480v9M337 486.5h9M341.5 482v9M288 485.5h9M292.5 481v9M343 487.5h9M347.5 483v9M314 484.5h9M318.5 480v9M322 483.5h9M326.5 479v9M288 485.5h9M292.5 481v9M315 489.5h9M319.5 485v9M320 486.5h9M324.5 482v9M315 487.5h9M319.5 483v9M282 485.5h9M286.5 481v9M305 487.5h9M309.5 483v9M316 488.5h9M320.5 484v9M344 485.5h9M348.5 481v9M360 487.5h9M364.5 483v9M318 483.5h9M322.5 479v9M329 486.5h9M333.5 482v9M330 489.5h9M334.5 485v9M356 487.5h9M360.5 483v9M374 483.5h9M378.5 479v9M301 483.5h9M305.5 479v9M379 485.5h9M383.5 481v9M284 484.5h9M288.5 480v9M313 483.5h9M317.5 479v9M287 486.5h9M291.5 482v9M325 486.5h9M329.5 482v9M381 491.5h9M385.5 487v9M309 483.5h9M313.5 479v9M302 485.5h9M306.5 481v9M375 490.5h9M379.5 486v9M359 483.5h9M363.5 479v9M188 63.5h9M192.5 59v9M280 62.5h9M284.5 58v9M309 65.5h9M313.5 61v9M315 264.5h9M319.5 260v9M317 270.5h9M321.5 266v9M337 287.5h9M341.5 283v9M321 302.5h9M325.5 298v9M338 315.5h9M342.5 311v9M327 330.5h9M331.5 326v9M317 342.5h9M321.5 338v9M321 356.5h9M325.5 352v9M319 373.5h9M323.5 369v9M341 390.5h9M345.5 386v9M349 412.5h9M353.5 408v9M339 421.5h9M343.5 417v9M370 445.5h9M374.5 441v9M201 262.5h9M205.5 258v9M211 270.5h9M215.5 266v9M221 285.5h9M225.5 281v9M204 293.5h9M208.5 289v9M231 300.5h9M235.5 296v9M212 308.5h9M216.5 304v9M209 325.5h9M213.5 321v9M203 331.5h9M207.5 327v9M196 340.5h9M200.5 336v9M271 295.5h9M275.5 291v9M259 267.5h9M263.5 263v9M241 300.5h9M245.5 296v9M245 323.5h9M249.5 319v9M231 335.5h9M235.5 331v9M196 386.5h9M200.5 382v9M259 355.5h9M263.5 351v9M259 382.5h9M263.5 378v9M231 394.5h9M235.5 390v9M236 413.5h9M240.5 409v9M225 425.5h9M229.5 421v9M262 435.5h9M266.5 431v9M252 441.5h9M256.5 437v9M254 454.5h9M258.5 450v9M259 488.5h9M263.5 484v9M252 424.5h9M256.5 420v9M255 447.5h9M259.5 443v9"/>
<path d="M292 246.5h9M296.5 242v9M288 256.5h9M292.5 252v9M299 257.5h9M303.5 253v9M277 262.5h9M281.5 258v9M273 271.5h9M277.5 267v9M286 284.5h9M290.5 280v9M290 269.5h9M294.5 265v9M307 269.5h9M311.5 265v9M305 280.5h9M309.5 276v9M294 292.5h9M298.5 288v9M304 294.5h9M308.5 290v9M300 285.5h9M304.5 281v9M293 289.5h9M297.5 285v9M280 304.5h9M284.5 300v9M304 303.5h9M308.5 299v9M242 323.5h9M246.5 319v9M290 315.5h9M294.5 311v9M283 307.5h9M287.5 303v9M285 313.5h9M289.5 309v9M286 307.5h9M290.5 303v9M292 315.5h9M296.5 311v9M279 306.5h9M283.5 302v9M284 315.5h9M288.5 311v9M215 327.5h9M219.5 323v9M221 336.5h9M225.5 332v9M213 326.5h9M217.5 322v9M291 329.5h9M295.5 325v9M304 336.5h9M308.5 332v9M276 344.5h9M280.5 340v9M289 328.5h9M293.5 324v9M283 344.5h9M287.5 340v9M283 335.5h9M287.5 331v9M275 338.5h9M279.5 334v9M299 337.5h9M303.5 333v9M300 338.5h9M304.5 334v9M296 338.5h9M300.5 334v9M292 327.5h9M296.5 323v9M271 344.5h9M275.5 340v9M271 342.5h9M275.5 338v9M217 360.5h9M221.5 356v9M210 353.5h9M214.5 349v9M219 364.5h9M223.5 360v9M204 357.5h9M208.5 353v9M216 351.5h9M220.5 347v9M265 353.5h9M269.5 349v9M283 353.5h9M287.5 349v9M279 350.5h9M283.5 346v9M274 356.5h9M278.5 352v9M302 363.5h9M306.5 359v9M286 347.5h9M290.5 343v9M305 351.5h9M309.5 347v9M285 354.5h9M289.5 350v9M299 360.5h9M303.5 356v9M285 354.5h9M289.5 350v9M292 346.5h9M296.5 342v9M287 358.5h9M291.5 354v9M304 361.5h9M308.5 357v9M277 359.5h9M281.5 355v9M287 364.5h9M291.5 360v9M270 348.5h9M274.5 344v9M281 357.5h9M285.5 353v9M221 376.5h9M225.5 372v9M222 381.5h9M226.5 377v9M228 370.5h9M232.5 366v9M222 378.5h9M226.5 374v9M216 372.5h9M220.5 368v9M214 372.5h9M218.5 368v9M212 373.5h9M216.5 369v9M252 367.5h9M256.5 363v9M265 374.5h9M269.5 370v9M304 368.5h9M308.5 364v9M283 365.5h9M287.5 361v9M291 373.5h9M295.5 369v9M299 373.5h9M303.5 369v9M304 372.5h9M308.5 368v9M313 368.5h9M317.5 364v9M301 383.5h9M305.5 379v9M299 380.5h9M303.5 376v9M307 372.5h9M311.5 368v9M310 370.5h9M314.5 366v9M287 382.5h9M291.5 378v9M286 369.5h9M290.5 365v9M297 370.5h9M301.5 366v9M297 375.5h9M301.5 371v9M288 377.5h9M292.5 373v9M303 374.5h9M307.5 370v9M303 370.5h9M307.5 366v9M302 369.5h9M306.5 365v9M299 374.5h9M303.5 370v9M315 365.5h9M319.5 361v9M318 367.5h9M322.5 363v9M278 372.5h9M282.5 368v9M271 365.5h9M275.5 361v9M276 367.5h9M280.5 363v9M283 372.5h9M287.5 368v9M290 367.5h9M294.5 363v9M220 388.5h9M224.5 384v9M212 397.5h9M216.5 393v9M212 397.5h9M216.5 393v9M227 399.5h9M231.5 395v9M214 390.5h9M218.5 386v9M209 404.5h9M213.5 400v9M215 397.5h9M219.5 393v9M224 386.5h9M228.5 382v9M215 395.5h9M219.5 391v9M244 404.5h9M248.5 400v9M261 390.5h9M265.5 386v9M289 397.5h9M293.5 393v9M305 385.5h9M309.5 381v9M310 400.5h9M314.5 396v9M295 399.5h9M299.5 395v9M305 394.5h9M309.5 390v9M279 386.5h9M283.5 382v9M279 385.5h9M283.5 381v9M290 396.5h9M294.5 392v9M301 391.5h9M305.5 387v9M298 388.5h9M302.5 384v9M287 389.5h9M291.5 385v9M287 400.5h9M291.5 396v9M296 387.5h9M300.5 383v9M289 387.5h9M293.5 383v9M302 385.5h9M306.5 381v9M309 399.5h9M313.5 395v9M305 399.5h9M309.5 395v9M301 397.5h9M305.5 393v9M312 401.5h9M316.5 397v9M294 402.5h9M298.5 398v9M307 402.5h9M311.5 398v9M300 400.5h9M304.5 396v9M295 401.5h9M299.5 397v9M301 399.5h9M305.5 395v9M288 388.5h9M292.5 384v9M297 393.5h9M301.5 389v9M309 402.5h9M313.5 398v9M287 404.5h9M291.5 400v9M287 403.5h9M291.5 399v9M311 390.5h9M315.5 386v9M307 385.5h9M311.5 381v9M295 403.5h9M299.5 399v9M312 396.5h9M316.5 392v9M291 403.5h9M295.5 399v9M272 386.5h9M276.5 382v9M303 400.5h9M307.5 396v9M307 386.5h9M311.5 382v9M290 395.5h9M294.5 391v9M295 385.5h9M299.5 381v9M314 399.5h9M318.5 395v9M320 393.5h9M324.5 389v9M263 403.5h9M267.5 399v9M321 385.5h9M325.5 381v9M269 395.5h9M273.5 391v9M217 415.5h9M221.5 411v9M210 409.5h9M214.5 405v9M210 424.5h9M214.5 420v9M216 409.5h9M220.5 405v9M203 419.5h9M207.5 415v9M208 424.5h9M212.5 420v9M214 416.5h9M218.5 412v9M207 406.5h9M211.5 402v9M226 414.5h9M230.5 410v9M210 423.5h9M214.5 419v9M208 417.5h9M212.5 413v9M263 418.5h9M267.5 414v9M255 417.5h9M259.5 413v9M261 416.5h9M265.5 412v9M295 408.5h9M299.5 404v9M317 411.5h9M321.5 407v9M297 422.5h9M301.5 418v9M314 411.5h9M318.5 407v9M308 420.5h9M312.5 416v9M292 406.5h9M296.5 402v9M296 419.5h9M300.5 415v9M298 424.5h9M302.5 420v9M291 409.5h9M295.5 405v9M292 411.5h9M296.5 407v9M291 406.5h9M295.5 402v9M303 410.5h9M307.5 406v9M291 408.5h9M295.5 404v9M297 411.5h9M301.5 407v9M318 420.5h9M322.5 416v9M314 406.5h9M318.5 402v9M294 421.5h9M298.5 417v9M314 421.5h9M318.5 417v9M302 407.5h9M306.5 403v9M304 416.5h9M308.5 412v9M302 410.5h9M306.5 406v9M290 408.5h9M294.5 404v9M289 408.5h9M293.5 404v9M301 420.5h9M305.5 416v9M299 408.5h9M303.5 404v9M287 419.5h9M291.5 415v9M305 424.5h9M309.5 420v9M292 418.5h9M296.5 414v9M287 411.5h9M291.5 407v9M286 406.5h9M290.5 402v9M301 408.5h9M305.5 404v9M296 408.5h9M300.5 404v9M293 416.5h9M297.5 412v9M296 407.5h9M300.5 403v9M311 406.5h9M315.5 402v9M285 416.5h9M289.5 412v9M288 423.5h9M292.5 419v9M299 413.5h9M303.5 409v9M296 407.5h9M300.5 403v9M312 405.5h9M316.5 401v9M296 411.5h9M300.5 407v9M299 416.5h9M303.5 412v9M292 416.5h9M296.5 412v9M293 410.5h9M297.5 406v9M292 413.5h9M296.5 409v9M300 422.5h9M304.5 418v9M277 411.5h9M281.5 407v9M285 410.5h9M289.5 406v9M290 415.5h9M294.5 411v9M284 410.5h9M288.5 406v9M318 416.5h9M322.5 412v9M303 405.5h9M307.5 401v9M328 408.5h9M332.5 404v9M273 417.5h9M277.5 413v9M316 424.5h9M320.5 420v9M302 422.5h9M306.5 418v9M276 408.5h9M280.5 404v9M295 424.5h9M299.5 420v9M369 424.5h9M373.5 420v9M216 438.5h9M220.5 434v9M199 432.5h9M203.5 428v9M212 428.5h9M216.5 424v9M208 425.5h9M212.5 421v9M215 435.5h9M219.5 431v9M204 435.5h9M208.5 431v9M223 434.5h9M227.5 430v9M220 427.5h9M224.5 423v9M202 440.5h9M206.5 436v9M243 436.5h9M247.5 432v9M243 433.5h9M247.5 429v9M309 432.5h9M313.5 428v9M305 435.5h9M309.5 431v9M280 433.5h9M284.5 429v9M307 427.5h9M311.5 423v9M301 426.5h9M305.5 422v9M340 430.5h9M344.5 426v9M319 442.5h9M323.5 438v9M307 443.5h9M311.5 439v9M300 441.5h9M304.5 437v9M308 436.5h9M312.5 432v9M308 443.5h9M312.5 439v9M302 426.5h9M306.5 422v9M314 441.5h9M318.5 437v9M316 439.5h9M320.5 435v9M302 440.5h9M306.5 436v9M301 441.5h9M305.5 437v9M298 429.5h9M302.5 425v9M293 425.5h9M297.5 421v9M318 431.5h9M322.5 427v9M314 428.5h9M318.5 424v9M279 425.5h9M283.5 421v9M316 435.5h9M320.5 431v9M305 444.5h9M309.5 440v9M316 433.5h9M320.5 429v9M289 444.5h9M293.5 440v9M316 426.5h9M320.5 422v9M321 441.5h9M325.5 437v9M310 444.5h9M314.5 440v9M297 432.5h9M301.5 428v9M296 441.5h9M300.5 437v9M300 432.5h9M304.5 428v9M318 425.5h9M322.5 421v9M293 444.5h9M297.5 440v9M284 430.5h9M288.5 426v9M319 433.5h9M323.5 429v9M283 426.5h9M287.5 422v9M302 444.5h9M306.5 440v9M305 435.5h9M309.5 431v9M303 436.5h9M307.5 432v9M303 430.5h9M307.5 426v9M312 432.5h9M316.5 428v9M302 440.5h9M306.5 436v9M298 440.5h9M302.5 436v9M305 433.5h9M309.5 429v9M323 431.5h9M327.5 427v9M312 426.5h9M316.5 422v9M310 428.5h9M314.5 424v9M317 439.5h9M321.5 435v9M290 441.5h9M294.5 437v9M317 436.5h9M321.5 432v9M309 429.5h9M313.5 425v9M291 436.5h9M295.5 432v9M309 434.5h9M313.5 430v9M311 435.5h9M315.5 431v9M330 439.5h9M334.5 435v9M313 444.5h9M317.5 440v9M316 434.5h9M320.5 430v9M307 425.5h9M311.5 421v9M278 436.5h9M282.5 432v9M282 432.5h9M286.5 428v9M317 437.5h9M321.5 433v9M275 441.5h9M279.5 437v9M341 441.5h9M345.5 437v9M275 430.5h9M279.5 426v9M297 441.5h9M301.5 437v9M303 437.5h9M307.5 433v9M299 431.5h9M303.5 427v9M268 443.5h9M272.5 439v9M305 443.5h9M309.5 439v9M317 440.5h9M321.5 436v9M274 427.5h9M278.5 423v9M335 425.5h9M339.5 421v9M284 432.5h9M288.5 428v9M365 440.5h9M369.5 436v9M214 445.5h9M218.5 441v9M210 446.5h9M214.5 442v9M222 447.5h9M226.5 443v9M205 446.5h9M209.5 442v9M238 458.5h9M242.5 454v9M306 463.5h9M310.5 459v9M319 453.5h9M323.5 449v9M310 455.5h9M314.5 451v9M317 451.5h9M321.5 447v9M305 456.5h9M309.5 452v9M296 449.5h9M300.5 445v9M354 446.5h9M358.5 442v9M307 458.5h9M311.5 454v9M320 456.5h9M324.5 452v9M290 458.5h9M294.5 454v9M301 464.5h9M305.5 460v9M305 449.5h9M309.5 445v9M306 453.5h9M310.5 449v9M293 459.5h9M297.5 455v9M297 445.5h9M301.5 441v9M327 464.5h9M331.5 460v9M323 446.5h9M327.5 442v9M330 463.5h9M334.5 459v9M306 448.5h9M310.5 444v9M335 457.5h9M339.5 453v9M337 457.5h9M341.5 453v9M290 460.5h9M294.5 456v9M346 454.5h9M350.5 450v9M318 454.5h9M322.5 450v9M326 457.5h9M330.5 453v9M319 446.5h9M323.5 442v9M342 447.5h9M346.5 443v9M321 464.5h9M325.5 460v9M332 459.5h9M336.5 455v9M323 462.5h9M327.5 458v9M312 457.5h9M316.5 453v9M327 449.5h9M331.5 445v9M312 461.5h9M316.5 457v9M341 462.5h9M345.5 458v9M318 460.5h9M322.5 456v9M320 459.5h9M324.5 455v9M320 451.5h9M324.5 447v9M296 452.5h9M300.5 448v9M296 455.5h9M300.5 451v9M313 459.5h9M317.5 455v9M305 464.5h9M309.5 460v9M308 455.5h9M312.5 451v9M297 450.5h9M301.5 446v9M301 455.5h9M305.5 451v9M300 463.5h9M304.5 459v9M320 451.5h9M324.5 447v9M321 451.5h9M325.5 447v9M335 448.5h9M339.5 444v9M320 456.5h9M324.5 452v9M334 459.5h9M338.5 455v9M306 448.5h9M310.5 444v9M304 463.5h9M308.5 459v9M324 455.5h9M328.5 451v9M304 446.5h9M308.5 442v9M305 459.5h9M309.5 455v9M317 459.5h9M321.5 455v9M311 450.5h9M315.5 446v9M308 458.5h9M312.5 454v9M338 463.5h9M342.5 459v9M313 453.5h9M317.5 449v9M329 463.5h9M333.5 459v9M307 454.5h9M311.5 450v9M301 463.5h9M305.5 459v9M341 446.5h9M345.5 442v9M313 461.5h9M317.5 457v9M334 464.5h9M338.5 460v9M315 462.5h9M319.5 458v9M337 448.5h9M341.5 444v9M350 464.5h9M354.5 460v9M288 454.5h9M292.5 450v9M328 450.5h9M332.5 446v9M312 464.5h9M316.5 460v9M298 452.5h9M302.5 448v9M311 446.5h9M315.5 442v9M290 459.5h9M294.5 455v9M346 447.5h9M350.5 443v9M331 464.5h9M335.5 460v9M312 456.5h9M316.5 452v9M290 458.5h9M294.5 454v9M282 451.5h9M286.5 447v9M336 455.5h9M340.5 451v9M290 453.5h9M294.5 449v9M342 454.5h9M346.5 450v9M330 452.5h9M334.5 448v9M275 452.5h9M279.5 448v9M316 456.5h9M320.5 452v9M310 450.5h9M314.5 446v9M336 457.5h9M340.5 453v9M298 450.5h9M302.5 446v9M349 453.5h9M353.5 449v9M335 457.5h9M339.5 453v9M319 447.5h9M323.5 443v9M335 454.5h9M339.5 450v9M374 449.5h9M378.5 445v9M383 452.5h9M387.5 448v9M371 453.5h9M375.5 449v9M370 454.5h9M374.5 450v9M286 483.5h9M290.5 479v9M346 478.5h9M350.5 474v9M370 476.5h9M374.5 472v9M375 468.5h9M379.5 464v9M363 483.5h9M367.5 479v9M342 479.5h9M346.5 475v9M297 476.5h9M301.5 472v9M377 478.5h9M381.5 474v9M277 474.5h9M281.5 470v9M350 481.5h9M354.5 477v9M353 478.5h9M357.5 474v9M326 477.5h9M330.5 473v9M319 466.5h9M323.5 462v9M306 473.5h9M310.5 469v9M313 475.5h9M317.5 471v9M272 479.5h9M276.5 475v9M302 471.5h9M306.5 467v9M333 483.5h9M337.5 479v9M351 481.5h9M355.5 477v9M308 481.5h9M312.5 477v9M292 482.5h9M296.5 478v9M348 468.5h9M352.5 464v9M368 484.5h9M372.5 480v9M299 472.5h9M303.5 468v9M283 469.5h9M287.5 465v9M288 475.5h9M292.5 471v9M354 472.5h9M358.5 468v9M323 486.5h9M327.5 482v9M356 474.5h9M360.5 470v9M354 473.5h9M358.5 469v9M281 470.5h9M285.5 466v9M303 472.5h9M307.5 468v9M272 485.5h9M276.5 481v9M376 482.5h9M380.5 478v9M376 477.5h9M380.5 473v9M277 469.5h9M281.5 465v9M299 475.5h9M303.5 471v9M281 484.5h9M285.5 480v9M351 469.5h9M355.5 465v9M317 471.5h9M321.5 467v9M357 472.5h9M361.5 468v9M386 477.5h9M390.5 473v9M341 468.5h9M345.5 464v9M319 480.5h9M323.5 476v9M282 478.5h9M286.5 474v9M322 479.5h9M326.5 475v9M283 479.5h9M287.5 475v9M374 486.5h9M378.5 482v9M327 476.5h9M331.5 472v9M351 474.5h9M355.5 470v9M377 475.5h9M381.5 471v9M293 482.5h9M297.5 478v9M374 475.5h9M378.5 471v9M288 480.5h9M292.5 476v9M371 481.5h9M375.5 477v9M281 473.5h9M285.5 469v9M349 469.5h9M353.5 465v9M368 470.5h9M372.5 466v9M284 475.5h9M288.5 471v9M310 479.5h9M314.5 475v9M365 462.5h9M369.5 458v9M338 479.5h9M342.5 475v9M305 476.5h9M309.5 472v9M368 474.5h9M372.5 470v9M335 477.5h9M339.5 473v9M341 479.5h9M345.5 475v9M290 481.5h9M294.5 477v9M304 475.5h9M308.5 471v9M349 476.5h9M353.5 472v9M279 479.5h9M283.5 475v9M369 478.5h9M373.5 474v9M302 482.5h9M306.5 478v9M275 478.5h9M279.5 474v9M319 479.5h9M323.5 475v9M286 472.5h9M290.5 468v9M324 471.5h9M328.5 467v9M285 488.5h9M289.5 484v9M374 476.5h9M378.5 472v9M306 470.5h9M310.5 466v9M309 466.5h9M313.5 462v9M305 473.5h9M309.5 469v9M307 478.5h9M311.5 474v9M371 469.5h9M375.5 465v9M308 478.5h9M312.5 474v9M375 482.5h9M379.5 478v9M350 482.5h9M354.5 478v9M350 467.5h9M354.5 463v9M278 480.5h9M282.5 476v9M300 479.5h9M304.5 475v9M324 474.5h9M328.5 470v9M378 474.5h9M382.5 470v9M302 477.5h9M306.5 473v9M338 474.5h9M342.5 470v9M328 475.5h9M332.5 471v9M287 474.5h9M291.5 470v9M368 479.5h9M372.5 475v9M383 477.5h9M387.5 473v9M316 475.5h9M320.5 471v9M292 470.5h9M296.5 466v9M380 473.5h9M384.5 469v9M312 476.5h9M316.5 472v9M338 469.5h9M342.5 465v9M317 474.5h9M321.5 470v9M332 479.5h9M336.5 475v9M296 472.5h9M300.5 468v9M333 477.5h9M337.5 473v9M315 476.5h9M319.5 472v9M302 479.5h9M306.5 475v9M363 477.5h9M367.5 473v9M381 478.5h9M385.5 474v9M329 476.5h9M333.5 472v9M280 473.5h9M284.5 469v9M313 477.5h9M317.5 473v9M344 480.5h9M348.5 476v9M281 473.5h9M285.5 469v9M380 474.5h9M384.5 470v9M343 476.5h9M347.5 472v9M336 472.5h9M340.5 468v9M341 479.5h9M345.5 475v9M345 480.5h9M349.5 476v9M322 475.5h9M326.5 471v9M343 475.5h9M347.5 471v9M360 478.5h9M364.5 474v9M340 467.5h9M344.5 463v9M348 476.5h9M352.5 472v9M362 478.5h9M366.5 474v9M275 477.5h9M279.5 473v9M299 478.5h9M303.5 474v9M381 468.5h9M385.5 464v9M374 472.5h9M378.5 468v9M380 482.5h9M384.5 478v9M291 479.5h9M295.5 475v9M326 474.5h9M330.5 470v9M319 470.5h9M323.5 466v9M319 481.5h9M323.5 477v9M341 485.5h9M345.5 481v9M373 481.5h9M377.5 477v9M366 476.5h9M370.5 472v9M304 473.5h9M308.5 469v9M349 476.5h9M353.5 472v9M337 474.5h9M341.5 470v9M372 478.5h9M376.5 474v9M372 468.5h9M376.5 464v9M368 476.5h9M372.5 472v9M319 480.5h9M323.5 476v9M367 480.5h9M371.5 476v9M297 472.5h9M301.5 468v9M281 475.5h9M285.5 471v9M363 472.5h9M367.5 468v9M279 475.5h9M283.5 471v9M218 468.5h9M222.5 464v9M344 489.5h9M348.5 485v9M355 491.5h9M359.5 487v9M357 487.5h9M361.5 483v9M311 490.5h9M315.5 486v9M292 488.5h9M296.5 484v9M330 492.5h9M334.5 488v9M311 486.5h9M315.5 482v9M330 486.5h9M334.5 482v9M377 491.5h9M381.5 487v9M354 489.5h9M358.5 485v9M340 493.5h9M344.5 489v9M316 493.5h9M320.5 489v9M370 494.5h9M374.5 490v9M292 490.5h9M296.5 486v9M296 487.5h9M300.5 483v9M334 487.5h9M338.5 483v9M370 493.5h9M374.5 489v9M358 499.5h9M362.5 495v9M352 491.5h9M356.5 487v9M332 484.5h9M336.5 480v9M349 490.5h9M353.5 486v9M354 486.5h9M358.5 482v9M362 487.5h9M366.5 483v9M314 484.5h9M318.5 480v9M369 486.5h9M373.5 482v9M293 485.5h9M297.5 481v9M298 483.5h9M302.5 479v9M335 489.5h9M339.5 485v9M351 484.5h9M355.5 480v9M350 483.5h9M354.5 479v9M282 485.5h9M286.5 481v9M332 488.5h9M336.5 484v9M370 490.5h9M374.5 486v9M353 489.5h9M357.5 485v9M286 484.5h9M290.5 480v9M293 484.5h9M297.5 480v9M292 486.5h9M296.5 482v9M317 489.5h9M321.5 485v9M351 488.5h9M355.5 484v9M356 490.5h9M360.5 486v9M281 486.5h9M285.5 482v9M345 489.5h9M349.5 485v9M377 490.5h9M381.5 486v9M336 490.5h9M340.5 486v9M322 486.5h9M326.5 482v9M357 491.5h9M361.5 487v9M323 483.5h9M327.5 479v9M280 484.5h9M284.5 480v9M291 483.5h9M295.5 479v9M296 487.5h9M300.5 483v9M303 484.5h9M307.5 480v9M304 487.5h9M308.5 483v9M305 484.5h9M309.5 480v9M293 486.5h9M297.5 482v9M373 483.5h9M377.5 479v9M325 483.5h9M329.5 479v9M315 487.5h9M319.5 483v9M312 487.5h9M316.5 483v9M343 489.5h9M347.5 485v9M279 483.5h9M283.5 479v9M373 484.5h9M377.5 480v9M334 487.5h9M338.5 483v9M192 66.5h9M196.5 62v9M287 67.5h9M291.5 63v9M368 214.5h9M372.5 210v9M323 266.5h9M327.5 262v9M323 277.5h9M327.5 273v9M325 289.5h9M329.5 285v9M323 303.5h9M327.5 299v9M334 318.5h9M338.5 314v9M333 336.5h9M337.5 332v9M319 345.5h9M323.5 341v9M329 362.5h9M333.5 358v9M321 382.5h9M325.5 378v9M338 394.5h9M342.5 390v9M368 406.5h9M372.5 402v9M351 430.5h9M355.5 426v9M378 439.5h9M382.5 435v9M218 254.5h9M222.5 250v9M216 273.5h9M220.5 269v9M219 286.5h9M223.5 282v9M210 294.5h9M214.5 290v9M233 302.5h9M237.5 298v9M215 307.5h9M219.5 303v9M206 326.5h9M210.5 322v9M211 329.5h9M215.5 325v9M199 339.5h9M203.5 335v9M272 302.5h9M276.5 298v9M247 273.5h9M251.5 269v9M251 302.5h9M255.5 298v9M253 321.5h9M257.5 317v9M249 343.5h9M253.5 339v9M212 360.5h9M216.5 356v9M257 360.5h9M261.5 356v9M243 388.5h9M247.5 384v9M250 400.5h9M254.5 396v9M261 415.5h9M265.5 411v9M215 429.5h9M219.5 425v9M252 421.5h9M256.5 417v9M254 445.5h9M258.5 441v9M263 459.5h9M267.5 455v9M249 350.5h9M253.5 346v9M259 426.5h9M263.5 422v9M256 451.5h9M260.5 447v9"/>
<path d="M295 255.5h9M299.5 251v9M288 252.5h9M292.5 248v9M302 252.5h9M306.5 248v9M296 250.5h9M300.5 246v9M281 278.5h9M285.5 274v9M277 281.5h9M281.5 277v9M285 272.5h9M289.5 268v9M281 274.5h9M285.5 270v9M280 272.5h9M284.5 268v9M296 285.5h9M300.5 281v9M291 286.5h9M295.5 282v9M302 295.5h9M306.5 291v9M282 301.5h9M286.5 297v9M291 303.5h9M295.5 299v9M301 300.5h9M305.5 296v9M289 321.5h9M293.5 317v9M297 322.5h9M301.5 318v9M295 314.5h9M299.5 310v9M288 320.5h9M292.5 316v9M280 310.5h9M284.5 306v9M292 314.5h9M296.5 310v9M296 308.5h9M300.5 304v9M282 319.5h9M286.5 315v9M216 340.5h9M220.5 336v9M215 326.5h9M219.5 322v9M222 331.5h9M226.5 327v9M292 331.5h9M296.5 327v9M291 328.5h9M295.5 324v9M289 331.5h9M293.5 327v9M283 326.5h9M287.5 322v9M292 344.5h9M296.5 340v9M289 325.5h9M293.5 321v9M287 339.5h9M291.5 335v9M273 339.5h9M277.5 335v9M281 329.5h9M285.5 325v9M267 339.5h9M271.5 335v9M275 339.5h9M279.5 335v9M307 325.5h9M311.5 321v9M294 329.5h9M298.5 325v9M216 361.5h9M220.5 357v9M212 350.5h9M216.5 346v9M224 362.5h9M228.5 358v9M221 350.5h9M225.5 346v9M228 356.5h9M232.5 352v9M241 348.5h9M245.5 344v9M284 351.5h9M288.5 347v9M293 353.5h9M297.5 349v9M301 363.5h9M305.5 359v9M290 360.5h9M294.5 356v9M292 358.5h9M296.5 354v9M270 357.5h9M274.5 353v9M288 350.5h9M292.5 346v9M292 349.5h9M296.5 345v9M295 353.5h9M299.5 349v9M277 362.5h9M281.5 358v9M286 351.5h9M290.5 347v9M288 352.5h9M292.5 348v9M307 364.5h9M311.5 360v9M309 353.5h9M313.5 349v9M301 345.5h9M305.5 341v9M297 358.5h9M301.5 354v9M213 384.5h9M217.5 380v9M218 370.5h9M222.5 366v9M220 367.5h9M224.5 363v9M217 371.5h9M221.5 367v9M206 366.5h9M210.5 362v9M203 384.5h9M207.5 380v9M223 368.5h9M227.5 364v9M245 375.5h9M249.5 371v9M239 383.5h9M243.5 379v9M283 369.5h9M287.5 365v9M290 381.5h9M294.5 377v9M288 365.5h9M292.5 361v9M298 366.5h9M302.5 362v9M299 384.5h9M303.5 380v9M291 380.5h9M295.5 376v9M303 369.5h9M307.5 365v9M293 367.5h9M297.5 363v9M295 380.5h9M299.5 376v9M300 377.5h9M304.5 373v9M299 367.5h9M303.5 363v9M290 377.5h9M294.5 373v9M288 365.5h9M292.5 361v9M294 373.5h9M298.5 369v9M290 381.5h9M294.5 377v9M285 379.5h9M289.5 375v9M285 376.5h9M289.5 372v9M296 379.5h9M300.5 375v9M304 378.5h9M308.5 374v9M269 378.5h9M273.5 374v9M269 381.5h9M273.5 377v9M287 384.5h9M291.5 380v9M275 380.5h9M279.5 376v9M297 366.5h9M301.5 362v9M311 369.5h9M315.5 365v9M287 382.5h9M291.5 378v9M223 404.5h9M227.5 400v9M219 387.5h9M223.5 383v9M218 393.5h9M222.5 389v9M207 402.5h9M211.5 398v9M206 393.5h9M210.5 389v9M222 385.5h9M226.5 381v9M207 401.5h9M211.5 397v9M216 390.5h9M220.5 386v9M199 389.5h9M203.5 385v9M247 397.5h9M251.5 393v9M248 390.5h9M252.5 386v9M300 398.5h9M304.5 394v9M287 385.5h9M291.5 381v9M314 388.5h9M318.5 384v9M288 393.5h9M292.5 389v9M307 395.5h9M311.5 391v9M310 397.5h9M314.5 393v9M300 399.5h9M304.5 395v9M302 401.5h9M306.5 397v9M291 390.5h9M295.5 386v9M299 403.5h9M303.5 399v9M291 398.5h9M295.5 394v9M311 396.5h9M315.5 392v9M297 401.5h9M301.5 397v9M300 397.5h9M304.5 393v9M295 399.5h9M299.5 395v9M305 394.5h9M309.5 390v9M302 388.5h9M306.5 384v9M290 397.5h9M294.5 393v9M296 391.5h9M300.5 387v9M287 401.5h9M291.5 397v9M284 396.5h9M288.5 392v9M293 403.5h9M297.5 399v9M299 400.5h9M303.5 396v9M304 392.5h9M308.5 388v9M287 396.5h9M291.5 392v9M314 403.5h9M318.5 399v9M302 394.5h9M306.5 390v9M293 398.5h9M297.5 394v9M314 401.5h9M318.5 397v9M293 396.5h9M297.5 392v9M309 399.5h9M313.5 395v9M300 401.5h9M304.5 397v9M303 387.5h9M307.5 383v9M274 404.5h9M278.5 400v9M317 390.5h9M321.5 386v9M312 388.5h9M316.5 384v9M319 391.5h9M323.5 387v9M294 395.5h9M298.5 391v9M325 389.5h9M329.5 385v9M274 387.5h9M278.5 383v9M317 395.5h9M321.5 391v9M282 393.5h9M286.5 389v9M302 390.5h9M306.5 386v9M205 410.5h9M209.5 406v9M220 421.5h9M224.5 417v9M218 409.5h9M222.5 405v9M217 410.5h9M221.5 406v9M213 424.5h9M217.5 420v9M215 420.5h9M219.5 416v9M212 416.5h9M216.5 412v9M224 412.5h9M228.5 408v9M212 423.5h9M216.5 419v9M220 423.5h9M224.5 419v9M212 418.5h9M216.5 414v9M217 424.5h9M221.5 420v9M260 424.5h9M264.5 420v9M247 424.5h9M251.5 420v9M256 408.5h9M260.5 404v9M302 420.5h9M306.5 416v9M301 419.5h9M305.5 415v9M302 416.5h9M306.5 412v9M289 417.5h9M293.5 413v9M291 409.5h9M295.5 405v9M306 407.5h9M310.5 403v9M304 406.5h9M308.5 402v9M290 409.5h9M294.5 405v9M294 417.5h9M298.5 413v9M289 412.5h9M293.5 408v9M299 411.5h9M303.5 407v9M295 405.5h9M299.5 401v9M311 407.5h9M315.5 403v9M301 417.5h9M305.5 413v9M300 410.5h9M304.5 406v9M291 418.5h9M295.5 414v9M284 417.5h9M288.5 413v9M304 410.5h9M308.5 406v9M308 419.5h9M312.5 415v9M296 411.5h9M300.5 407v9M295 412.5h9M299.5 408v9M301 406.5h9M305.5 402v9M300 415.5h9M304.5 411v9M301 421.5h9M305.5 417v9M291 421.5h9M295.5 417v9M286 423.5h9M290.5 419v9M309 406.5h9M313.5 402v9M303 415.5h9M307.5 411v9M304 408.5h9M308.5 404v9M287 418.5h9M291.5 414v9M298 418.5h9M302.5 414v9M302 422.5h9M306.5 418v9M297 407.5h9M301.5 403v9M283 424.5h9M287.5 420v9M313 409.5h9M317.5 405v9M286 423.5h9M290.5 419v9M311 419.5h9M315.5 415v9M306 421.5h9M310.5 417v9M290 422.5h9M294.5 418v9M287 408.5h9M291.5 404v9M297 409.5h9M301.5 405v9M300 411.5h9M304.5 407v9M299 415.5h9M303.5 411v9M292 420.5h9M296.5 416v9M310 406.5h9M314.5 402v9M300 414.5h9M304.5 410v9M326 416.5h9M330.5 412v9M314 409.5h9M318.5 405v9M326 417.5h9M330.5 413v9M297 405.5h9M301.5 401v9M305 418.5h9M309.5 414v9M297 418.5h9M301.5 414v9M317 423.5h9M321.5 419v9M292 422.5h9M296.5 418v9M278 416.5h9M282.5 412v9M281 422.5h9M285.5 418v9M311 406.5h9M315.5 402v9M287 422.5h9M291.5 418v9M371 419.5h9M375.5 415v9M217 438.5h9M221.5 434v9M227 432.5h9M231.5 428v9M221 427.5h9M225.5 423v9M236 439.5h9M240.5 435v9M209 437.5h9M213.5 433v9M219 434.5h9M223.5 430v9M230 437.5h9M234.5 433v9M222 432.5h9M226.5 428v9M218 427.5h9M222.5 423v9M239 428.5h9M243.5 424v9M260 437.5h9M264.5 433v9M294 436.5h9M298.5 432v9M293 434.5h9M297.5 430v9M309 434.5h9M313.5 430v9M284 429.5h9M288.5 425v9M291 438.5h9M295.5 434v9M306 430.5h9M310.5 426v9M288 430.5h9M292.5 426v9M297 436.5h9M301.5 432v9M323 436.5h9M327.5 432v9M301 428.5h9M305.5 424v9M299 429.5h9M303.5 425v9M298 438.5h9M302.5 434v9M299 428.5h9M303.5 424v9M312 433.5h9M316.5 429v9M315 434.5h9M319.5 430v9M330 429.5h9M334.5 425v9M316 439.5h9M320.5 435v9M297 435.5h9M301.5 431v9M330 441.5h9M334.5 437v9M314 435.5h9M318.5 431v9M304 443.5h9M308.5 439v9M307 430.5h9M311.5 426v9M321 425.5h9M325.5 421v9M300 426.5h9M304.5 422v9M333 440.5h9M337.5 436v9M287 439.5h9M291.5 435v9M293 441.5h9M297.5 437v9M303 440.5h9M307.5 436v9M287 440.5h9M291.5 436v9M318 440.5h9M322.5 436v9M312 441.5h9M316.5 437v9M317 441.5h9M321.5 437v9M313 435.5h9M317.5 431v9M311 432.5h9M315.5 428v9M312 444.5h9M316.5 440v9M329 441.5h9M333.5 437v9M310 442.5h9M314.5 438v9M295 433.5h9M299.5 429v9M312 441.5h9M316.5 437v9M308 432.5h9M312.5 428v9M310 432.5h9M314.5 428v9M311 434.5h9M315.5 430v9M298 425.5h9M302.5 421v9M286 441.5h9M290.5 437v9M297 432.5h9M301.5 428v9M313 433.5h9M317.5 429v9M282 438.5h9M286.5 434v9M318 437.5h9M322.5 433v9M275 432.5h9M279.5 428v9M309 441.5h9M313.5 437v9M325 441.5h9M329.5 437v9M290 433.5h9M294.5 429v9M304 427.5h9M308.5 423v9M323 433.5h9M327.5 429v9M296 439.5h9M300.5 435v9M319 431.5h9M323.5 427v9M322 444.5h9M326.5 440v9M313 443.5h9M317.5 439v9M295 425.5h9M299.5 421v9M280 436.5h9M284.5 432v9M317 434.5h9M321.5 430v9M273 425.5h9M277.5 421v9M276 435.5h9M280.5 431v9M298 425.5h9M302.5 421v9M334 427.5h9M338.5 423v9M317 443.5h9M321.5 439v9M290 431.5h9M294.5 427v9M297 440.5h9M301.5 436v9M294 443.5h9M298.5 439v9M280 430.5h9M284.5 426v9M275 434.5h9M279.5 430v9M335 429.5h9M339.5 425v9M373 436.5h9M377.5 432v9M357 432.5h9M361.5 428v9M209 453.5h9M213.5 449v9M213 452.5h9M217.5 448v9M210 463.5h9M214.5 459v9M214 454.5h9M218.5 450v9M252 445.5h9M256.5 441v9M311 452.5h9M315.5 448v9M321 459.5h9M325.5 455v9M332 464.5h9M336.5 460v9M301 458.5h9M305.5 454v9M311 449.5h9M315.5 445v9M325 454.5h9M329.5 450v9M320 445.5h9M324.5 441v9M305 449.5h9M309.5 445v9M324 450.5h9M328.5 446v9M314 454.5h9M318.5 450v9M318 464.5h9M322.5 460v9M313 447.5h9M317.5 443v9M322 445.5h9M326.5 441v9M324 460.5h9M328.5 456v9M287 450.5h9M291.5 446v9M322 463.5h9M326.5 459v9M322 446.5h9M326.5 442v9M308 448.5h9M312.5 444v9M305 460.5h9M309.5 456v9M314 453.5h9M318.5 449v9M323 451.5h9M327.5 447v9M308 459.5h9M312.5 455v9M316 455.5h9M320.5 451v9M313 449.5h9M317.5 445v9M328 457.5h9M332.5 453v9M314 453.5h9M318.5 449v9M323 455.5h9M327.5 451v9M323 459.5h9M327.5 455v9M321 464.5h9M325.5 460v9M309 459.5h9M313.5 455v9M347 451.5h9M351.5 447v9M328 457.5h9M332.5 453v9M313 452.5h9M317.5 448v9M339 459.5h9M343.5 455v9M322 451.5h9M326.5 447v9M320 453.5h9M324.5 449v9M329 447.5h9M333.5 443v9M285 458.5h9M289.5 454v9M326 452.5h9M330.5 448v9M324 451.5h9M328.5 447v9M285 448.5h9M289.5 444v9M343 464.5h9M347.5 460v9M311 455.5h9M315.5 451v9M324 463.5h9M328.5 459v9M352 453.5h9M356.5 449v9M315 448.5h9M319.5 444v9M303 454.5h9M307.5 450v9M337 464.5h9M341.5 460v9M347 459.5h9M351.5 455v9M323 452.5h9M327.5 448v9M341 461.5h9M345.5 457v9M301 451.5h9M305.5 447v9M311 461.5h9M315.5 457v9M311 459.5h9M315.5 455v9M324 446.5h9M328.5 442v9M308 448.5h9M312.5 444v9M319 464.5h9M323.5 460v9M331 460.5h9M335.5 456v9M305 448.5h9M309.5 444v9M303 459.5h9M307.5 455v9M321 461.5h9M325.5 457v9M307 446.5h9M311.5 442v9M339 447.5h9M343.5 443v9M286 449.5h9M290.5 445v9M315 462.5h9M319.5 458v9M286 447.5h9M290.5 443v9M332 454.5h9M336.5 450v9M298 448.5h9M302.5 444v9M317 455.5h9M321.5 451v9M333 463.5h9M337.5 459v9M299 460.5h9M303.5 456v9M297 451.5h9M301.5 447v9M336 455.5h9M340.5 451v9M335 449.5h9M339.5 445v9M319 453.5h9M323.5 449v9M354 455.5h9M358.5 451v9M365 458.5h9M369.5 454v9M317 445.5h9M321.5 441v9M343 463.5h9M347.5 459v9M302 453.5h9M306.5 449v9M282 458.5h9M286.5 454v9M331 446.5h9M335.5 442v9M279 458.5h9M283.5 454v9M333 453.5h9M337.5 449v9M352 463.5h9M356.5 459v9M288 455.5h9M292.5 451v9M304 454.5h9M308.5 450v9M333 452.5h9M337.5 448v9M312 461.5h9M316.5 457v9M286 447.5h9M290.5 443v9M290 457.5h9M294.5 453v9M286 452.5h9M290.5 448v9M363 449.5h9M367.5 445v9M363 452.5h9M367.5 448v9M365 450.5h9M369.5 446v9M362 453.5h9M366.5 449v9M297 482.5h9M301.5 478v9M329 470.5h9M333.5 466v9M378 472.5h9M382.5 468v9M311 476.5h9M315.5 472v9M304 482.5h9M308.5 478v9M317 479.5h9M321.5 475v9M293 473.5h9M297.5 469v9M360 485.5h9M364.5 481v9M316 475.5h9M320.5 471v9M278 469.5h9M282.5 465v9M357 481.5h9M361.5 477v9M274 478.5h9M278.5 474v9M358 471.5h9M362.5 467v9M272 470.5h9M276.5 466v9M286 472.5h9M290.5 468v9M284 475.5h9M288.5 471v9M291 479.5h9M295.5 475v9M282 474.5h9M286.5 470v9M318 479.5h9M322.5 475v9M291 477.5h9M295.5 473v9M309 474.5h9M313.5 470v9M290 477.5h9M294.5 473v9M314 473.5h9M318.5 469v9M324 480.5h9M328.5 476v9M364 479.5h9M368.5 475v9M328 480.5h9M332.5 476v9M318 483.5h9M322.5 479v9M350 472.5h9M354.5 468v9M376 478.5h9M380.5 474v9M303 476.5h9M307.5 472v9M336 475.5h9M340.5 471v9M380 474.5h9M384.5 470v9M338 472.5h9M342.5 468v9M280 474.5h9M284.5 470v9M312 483.5h9M316.5 479v9M292 479.5h9M296.5 475v9M285 467.5h9M289.5 463v9M368 473.5h9M372.5 469v9M295 479.5h9M299.5 475v9M351 479.5h9M355.5 475v9M301 478.5h9M305.5 474v9M304 475.5h9M308.5 471v9M358 482.5h9M362.5 478v9M341 477.5h9M345.5 473v9M319 480.5h9M323.5 476v9M343 483.5h9M347.5 479v9M294 470.5h9M298.5 466v9M368 476.5h9M372.5 472v9M275 475.5h9M279.5 471v9M346 468.5h9M350.5 464v9M356 481.5h9M360.5 477v9M308 479.5h9M312.5 475v9M320 481.5h9M324.5 477v9M349 482.5h9M353.5 478v9M293 473.5h9M297.5 469v9M379 482.5h9M383.5 478v9M355 477.5h9M359.5 473v9M278 473.5h9M282.5 469v9M281 482.5h9M285.5 478v9M290 472.5h9M294.5 468v9M280 473.5h9M284.5 469v9M287 478.5h9M291.5 474v9M315 478.5h9M319.5 474v9M374 481.5h9M378.5 477v9M342 475.5h9M346.5 471v9M374 473.5h9M378.5 469v9M339 472.5h9M343.5 468v9M373 478.5h9M377.5 474v9M345 478.5h9M349.5 474v9M303 485.5h9M307.5 481v9M332 470.5h9M336.5 466v9M298 462.5h9M302.5 458v9M343 475.5h9M347.5 471v9M339 473.5h9M343.5 469v9M330 474.5h9M334.5 470v9M316 475.5h9M320.5 471v9M303 475.5h9M307.5 471v9M279 470.5h9M283.5 466v9M299 473.5h9M303.5 469v9M356 483.5h9M360.5 479v9M318 475.5h9M322.5 471v9M384 473.5h9M388.5 469v9M304 470.5h9M308.5 466v9M360 476.5h9M364.5 472v9M373 471.5h9M377.5 467v9M306 470.5h9M310.5 466v9M280 471.5h9M284.5 467v9M312 472.5h9M316.5 468v9M288 485.5h9M292.5 481v9M286 481.5h9M290.5 477v9M353 471.5h9M357.5 467v9M294 470.5h9M298.5 466v9M346 472.5h9M350.5 468v9M360 476.5h9M364.5 472v9M372 468.5h9M376.5 464v9M365 476.5h9M369.5 472v9M277 475.5h9M281.5 471v9M291 475.5h9M295.5 471v9M283 478.5h9M287.5 474v9M375 479.5h9M379.5 475v9M286 483.5h9M290.5 479v9M364 470.5h9M368.5 466v9M340 477.5h9M344.5 473v9M334 472.5h9M338.5 468v9M292 478.5h9M296.5 474v9M313 474.5h9M317.5 470v9M359 483.5h9M363.5 479v9M330 478.5h9M334.5 474v9M348 476.5h9M352.5 472v9M373 474.5h9M377.5 470v9M362 478.5h9M366.5 474v9M363 471.5h9M367.5 467v9M302 480.5h9M306.5 476v9M355 474.5h9M359.5 470v9M321 474.5h9M325.5 470v9M311 469.5h9M315.5 465v9M300 480.5h9M304.5 476v9M340 470.5h9M344.5 466v9M313 469.5h9M317.5 465v9M326 475.5h9M330.5 471v9M349 480.5h9M353.5 476v9M327 473.5h9M331.5 469v9M324 470.5h9M328.5 466v9M367 475.5h9M371.5 471v9M362 480.5h9M366.5 476v9M318 472.5h9M322.5 468v9M336 476.5h9M340.5 472v9M385 472.5h9M389.5 468v9M285 470.5h9M289.5 466v9M302 475.5h9M306.5 471v9M317 472.5h9M321.5 468v9M276 472.5h9M280.5 468v9M367 471.5h9M371.5 467v9M329 476.5h9M333.5 472v9M316 479.5h9M320.5 475v9M302 471.5h9M306.5 467v9M299 479.5h9M303.5 475v9M284 466.5h9M288.5 462v9M382 471.5h9M386.5 467v9M341 474.5h9M345.5 470v9M327 474.5h9M331.5 470v9M277 473.5h9M281.5 469v9M326 480.5h9M330.5 476v9M338 486.5h9M342.5 482v9M328 481.5h9M332.5 477v9M283 465.5h9M287.5 461v9M329 470.5h9M333.5 466v9M298 477.5h9M302.5 473v9M281 474.5h9M285.5 470v9M355 482.5h9M359.5 478v9M205 470.5h9M209.5 466v9M222 471.5h9M226.5 467v9M317 486.5h9M321.5 482v9M342 488.5h9M346.5 484v9M293 488.5h9M297.5 484v9M339 497.5h9M343.5 493v9M364 490.5h9M368.5 486v9M372 493.5h9M376.5 489v9M367 491.5h9M371.5 487v9M293 486.5h9M297.5 482v9M338 487.5h9M342.5 483v9M316 487.5h9M320.5 483v9M298 486.5h9M302.5 482v9M338 493.5h9M342.5 489v9M352 493.5h9M356.5 489v9M331 486.5h9M335.5 482v9M367 488.5h9M371.5 484v9M287 486.5h9M291.5 482v9M290 487.5h9M294.5 483v9M290 489.5h9M294.5 485v9M343 483.5h9M347.5 479v9M279 484.5h9M283.5 480v9M332 488.5h9M336.5 484v9M351 491.5h9M355.5 487v9M315 485.5h9M319.5 481v9M328 483.5h9M332.5 479v9M306 486.5h9M310.5 482v9M287 487.5h9M291.5 483v9M373 491.5h9M377.5 487v9M313 483.5h9M317.5 479v9M353 483.5h9M357.5 479v9M365 492.5h9M369.5 488v9M321 485.5h9M325.5 481v9M359 486.5h9M363.5 482v9M356 488.5h9M360.5 484v9M305 485.5h9M309.5 481v9M347 490.5h9M351.5 486v9M322 487.5h9M326.5 483v9M290 484.5h9M294.5 480v9M283 483.5h9M287.5 479v9M305 485.5h9M309.5 481v9M354 486.5h9M358.5 482v9M288 487.5h9M292.5 483v9M294 483.5h9M298.5 479v9M324 485.5h9M328.5 481v9M371 490.5h9M375.5 486v9M380 494.5h9M384.5 490v9M343 488.5h9M347.5 484v9M341 484.5h9M345.5 480v9M332 485.5h9M336.5 481v9M280 484.5h9M284.5 480v9M283 483.5h9M287.5 479v9M366 484.5h9M370.5 480v9M338 484.5h9M342.5 480v9M343 488.5h9M347.5 484v9M323 488.5h9M327.5 484v9M374 493.5h9M378.5 489v9M336 485.5h9M340.5 481v9M370 486.5h9M374.5 482v9M365 484.5h9M369.5 480v9M350 486.5h9M354.5 482v9M378 492.5h9M382.5 488v9M363 486.5h9M367.5 482v9M352 486.5h9M356.5 482v9M218 62.5h9M222.5 58v9M292 62.5h9M296.5 58v9M340 257.5h9M344.5 253v9M338 268.5h9M342.5 264v9M325 279.5h9M329.5 275v9M332 294.5h9M336.5 290v9M312 300.5h9M316.5 296v9M318 320.5h9M322.5 316v9M326 335.5h9M330.5 331v9M332 348.5h9M336.5 344v9M334 366.5h9M338.5 362v9M350 383.5h9M354.5 379v9M354 402.5h9M358.5 398v9M361 411.5h9M365.5 407v9M347 432.5h9M351.5 428v9M349 445.5h9M353.5 441v9M226 256.5h9M230.5 252v9M226 274.5h9M230.5 270v9M201 286.5h9M205.5 282v9M213 295.5h9M217.5 291v9M236 307.5h9M240.5 303v9M201 318.5h9M205.5 314v9M215 325.5h9M219.5 321v9M213 330.5h9M217.5 326v9M234 340.5h9M238.5 336v9M276 280.5h9M280.5 276v9M261 274.5h9M265.5 270v9M254 306.5h9M258.5 302v9M259 322.5h9M263.5 318v9M256 341.5h9M260.5 337v9M221 356.5h9M225.5 352v9M247 360.5h9M251.5 356v9M255 389.5h9M259.5 385v9M257 400.5h9M261.5 396v9M206 418.5h9M210.5 414v9M250 426.5h9M254.5 422v9M248 428.5h9M252.5 424v9M256 448.5h9M260.5 444v9M224 445.5h9M228.5 441v9M260 343.5h9M264.5 339v9M253 420.5h9M257.5 416v9M259 320.5h9M263.5 316v9"/>
<path d="M302 246.5h9M306.5 242v9M298 262.5h9M302.5 258v9M292 249.5h9M296.5 245v9M309 260.5h9M313.5 256v9M280 274.5h9M284.5 270v9M288 278.5h9M292.5 274v9M292 273.5h9M296.5 269v9M293 273.5h9M297.5 269v9M275 266.5h9M279.5 262v9M302 287.5h9M306.5 283v9M300 290.5h9M304.5 286v9M313 298.5h9M317.5 294v9M313 301.5h9M317.5 297v9M310 289.5h9M314.5 285v9M290 291.5h9M294.5 287v9M282 324.5h9M286.5 320v9M283 321.5h9M287.5 317v9M282 316.5h9M286.5 312v9M288 308.5h9M292.5 304v9M285 320.5h9M289.5 316v9M306 318.5h9M310.5 314v9M290 318.5h9M294.5 314v9M271 316.5h9M275.5 312v9M219 330.5h9M223.5 326v9M213 338.5h9M217.5 334v9M210 336.5h9M214.5 332v9M284 330.5h9M288.5 326v9M269 327.5h9M273.5 323v9M296 337.5h9M300.5 333v9M299 338.5h9M303.5 334v9M283 344.5h9M287.5 340v9M289 332.5h9M293.5 328v9M296 331.5h9M300.5 327v9M291 335.5h9M295.5 331v9M267 327.5h9M271.5 323v9M278 339.5h9M282.5 335v9M278 326.5h9M282.5 322v9M289 333.5h9M293.5 329v9M306 325.5h9M310.5 321v9M230 359.5h9M234.5 355v9M220 361.5h9M224.5 357v9M221 363.5h9M225.5 359v9M234 347.5h9M238.5 343v9M213 348.5h9M217.5 344v9M240 351.5h9M244.5 347v9M291 346.5h9M295.5 342v9M302 364.5h9M306.5 360v9M293 361.5h9M297.5 357v9M280 354.5h9M284.5 350v9M305 347.5h9M309.5 343v9M298 362.5h9M302.5 358v9M284 358.5h9M288.5 354v9M282 364.5h9M286.5 360v9M298 358.5h9M302.5 354v9M304 359.5h9M308.5 355v9M299 348.5h9M303.5 344v9M311 348.5h9M315.5 344v9M296 350.5h9M300.5 346v9M290 363.5h9M294.5 359v9M292 351.5h9M296.5 347v9M264 361.5h9M268.5 357v9M224 375.5h9M228.5 371v9M215 367.5h9M219.5 363v9M199 376.5h9M203.5 372v9M218 378.5h9M222.5 374v9M213 368.5h9M217.5 364v9M225 372.5h9M229.5 368v9M211 365.5h9M215.5 361v9M263 367.5h9M267.5 363v9M282 377.5h9M286.5 373v9M288 372.5h9M292.5 368v9M303 376.5h9M307.5 372v9M289 369.5h9M293.5 365v9M287 365.5h9M291.5 361v9M306 384.5h9M310.5 380v9M298 372.5h9M302.5 368v9M295 371.5h9M299.5 367v9M284 372.5h9M288.5 368v9M293 376.5h9M297.5 372v9M306 378.5h9M310.5 374v9M297 365.5h9M301.5 361v9M291 383.5h9M295.5 379v9M289 372.5h9M293.5 368v9M296 380.5h9M300.5 376v9M299 371.5h9M303.5 367v9M290 367.5h9M294.5 363v9M283 375.5h9M287.5 371v9M308 371.5h9M312.5 367v9M307 376.5h9M311.5 372v9M298 366.5h9M302.5 362v9M306 377.5h9M310.5 373v9M295 365.5h9M299.5 361v9M322 374.5h9M326.5 370v9M306 377.5h9M310.5 373v9M285 380.5h9M289.5 376v9M279 379.5h9M283.5 375v9M216 404.5h9M220.5 400v9M219 385.5h9M223.5 381v9M216 393.5h9M220.5 389v9M212 394.5h9M216.5 390v9M206 393.5h9M210.5 389v9M212 400.5h9M216.5 396v9M208 403.5h9M212.5 399v9M215 393.5h9M219.5 389v9M219 389.5h9M223.5 385v9M260 401.5h9M264.5 397v9M249 388.5h9M253.5 384v9M285 402.5h9M289.5 398v9M311 390.5h9M315.5 386v9M308 400.5h9M312.5 396v9M307 390.5h9M311.5 386v9M299 401.5h9M303.5 397v9M297 397.5h9M301.5 393v9M293 402.5h9M297.5 398v9M294 393.5h9M298.5 389v9M288 400.5h9M292.5 396v9M288 400.5h9M292.5 396v9M284 387.5h9M288.5 383v9M298 393.5h9M302.5 389v9M281 393.5h9M285.5 389v9M300 385.5h9M304.5 381v9M299 388.5h9M303.5 384v9M305 404.5h9M309.5 400v9M305 386.5h9M309.5 382v9M291 400.5h9M295.5 396v9M279 401.5h9M283.5 397v9M298 390.5h9M302.5 386v9M296 401.5h9M300.5 397v9M300 398.5h9M304.5 394v9M300 402.5h9M304.5 398v9M290 395.5h9M294.5 391v9M292 385.5h9M296.5 381v9M300 404.5h9M304.5 400v9M317 386.5h9M321.5 382v9M291 388.5h9M295.5 384v9M314 399.5h9M318.5 395v9M299 391.5h9M303.5 387v9M299 403.5h9M303.5 399v9M292 391.5h9M296.5 387v9M303 393.5h9M307.5 389v9M274 389.5h9M278.5 385v9M332 391.5h9M336.5 387v9M276 394.5h9M280.5 390v9M320 385.5h9M324.5 381v9M274 402.5h9M278.5 398v9M280 401.5h9M284.5 397v9M295 387.5h9M299.5 383v9M296 391.5h9M300.5 387v9M303 386.5h9M307.5 382v9M308 403.5h9M312.5 399v9M207 407.5h9M211.5 403v9M208 418.5h9M212.5 414v9M209 416.5h9M213.5 412v9M217 406.5h9M221.5 402v9M216 411.5h9M220.5 407v9M203 419.5h9M207.5 415v9M204 422.5h9M208.5 418v9M210 421.5h9M214.5 417v9M210 421.5h9M214.5 417v9M218 424.5h9M222.5 420v9M213 412.5h9M217.5 408v9M211 421.5h9M215.5 417v9M262 413.5h9M266.5 409v9M255 405.5h9M259.5 401v9M251 416.5h9M255.5 412v9M303 408.5h9M307.5 404v9M296 410.5h9M300.5 406v9M310 417.5h9M314.5 413v9M311 423.5h9M315.5 419v9M304 408.5h9M308.5 404v9M304 409.5h9M308.5 405v9M297 407.5h9M301.5 403v9M311 409.5h9M315.5 405v9M304 407.5h9M308.5 403v9M305 422.5h9M309.5 418v9M300 419.5h9M304.5 415v9M293 412.5h9M297.5 408v9M313 419.5h9M317.5 415v9M308 416.5h9M312.5 412v9M318 417.5h9M322.5 413v9M286 421.5h9M290.5 417v9M296 418.5h9M300.5 414v9M274 417.5h9M278.5 413v9M296 409.5h9M300.5 405v9M305 420.5h9M309.5 416v9M300 410.5h9M304.5 406v9M331 420.5h9M335.5 416v9M322 417.5h9M326.5 413v9M298 417.5h9M302.5 413v9M295 416.5h9M299.5 412v9M310 414.5h9M314.5 410v9M310 408.5h9M314.5 404v9M291 413.5h9M295.5 409v9M307 414.5h9M311.5 410v9M293 416.5h9M297.5 412v9M296 418.5h9M300.5 414v9M295 422.5h9M299.5 418v9M286 406.5h9M290.5 402v9M299 421.5h9M303.5 417v9M298 416.5h9M302.5 412v9M304 419.5h9M308.5 415v9M313 406.5h9M317.5 402v9M295 405.5h9M299.5 401v9M285 421.5h9M289.5 417v9M306 412.5h9M310.5 408v9M310 405.5h9M314.5 401v9M310 424.5h9M314.5 420v9M330 405.5h9M334.5 401v9M316 418.5h9M320.5 414v9M295 424.5h9M299.5 420v9M287 411.5h9M291.5 407v9M273 424.5h9M277.5 420v9M294 422.5h9M298.5 418v9M329 419.5h9M333.5 415v9M320 406.5h9M324.5 402v9M304 410.5h9M308.5 406v9M312 409.5h9M316.5 405v9M282 409.5h9M286.5 405v9M267 423.5h9M271.5 419v9M280 410.5h9M284.5 406v9M291 408.5h9M295.5 404v9M293 422.5h9M297.5 418v9M272 413.5h9M276.5 409v9M216 430.5h9M220.5 426v9M207 438.5h9M211.5 434v9M213 444.5h9M217.5 440v9M224 443.5h9M228.5 439v9M222 436.5h9M226.5 432v9M213 437.5h9M217.5 433v9M217 443.5h9M221.5 439v9M224 442.5h9M228.5 438v9M220 434.5h9M224.5 430v9M213 435.5h9M217.5 431v9M258 430.5h9M262.5 426v9M248 425.5h9M252.5 421v9M311 444.5h9M315.5 440v9M321 425.5h9M325.5 421v9M282 438.5h9M286.5 434v9M324 427.5h9M328.5 423v9M291 444.5h9M295.5 440v9M301 442.5h9M305.5 438v9M306 435.5h9M310.5 431v9M314 435.5h9M318.5 431v9M278 433.5h9M282.5 429v9M318 441.5h9M322.5 437v9M309 440.5h9M313.5 436v9M327 430.5h9M331.5 426v9M315 432.5h9M319.5 428v9M302 441.5h9M306.5 437v9M309 434.5h9M313.5 430v9M307 436.5h9M311.5 432v9M314 430.5h9M318.5 426v9M319 427.5h9M323.5 423v9M314 427.5h9M318.5 423v9M293 428.5h9M297.5 424v9M283 436.5h9M287.5 432v9M308 436.5h9M312.5 432v9M291 441.5h9M295.5 437v9M305 438.5h9M309.5 434v9M291 440.5h9M295.5 436v9M300 444.5h9M304.5 440v9M294 441.5h9M298.5 437v9M304 429.5h9M308.5 425v9M309 443.5h9M313.5 439v9M318 425.5h9M322.5 421v9M297 426.5h9M301.5 422v9M308 444.5h9M312.5 440v9M312 441.5h9M316.5 437v9M317 442.5h9M321.5 438v9M293 437.5h9M297.5 433v9M298 433.5h9M302.5 429v9M314 436.5h9M318.5 432v9M322 441.5h9M326.5 437v9M308 427.5h9M312.5 423v9M335 428.5h9M339.5 424v9M314 429.5h9M318.5 425v9M288 440.5h9M292.5 436v9M312 432.5h9M316.5 428v9M312 437.5h9M316.5 433v9M308 428.5h9M312.5 424v9M281 438.5h9M285.5 434v9M305 442.5h9M309.5 438v9M304 437.5h9M308.5 433v9M303 441.5h9M307.5 437v9M326 427.5h9M330.5 423v9M310 425.5h9M314.5 421v9M289 429.5h9M293.5 425v9M287 439.5h9M291.5 435v9M311 428.5h9M315.5 424v9M312 425.5h9M316.5 421v9M312 432.5h9M316.5 428v9M323 434.5h9M327.5 430v9M297 444.5h9M301.5 440v9M331 425.5h9M335.5 421v9M276 436.5h9M280.5 432v9M280 426.5h9M284.5 422v9M286 438.5h9M290.5 434v9M275 443.5h9M279.5 439v9M329 441.5h9M333.5 437v9M293 427.5h9M297.5 423v9M325 441.5h9M329.5 437v9M265 438.5h9M269.5 434v9M330 435.5h9M334.5 431v9M321 429.5h9M325.5 425v9M267 430.5h9M271.5 426v9M340 440.5h9M344.5 436v9M334 430.5h9M338.5 426v9M354 442.5h9M358.5 438v9M372 429.5h9M376.5 425v9M217 459.5h9M221.5 455v9M201 456.5h9M205.5 452v9M209 448.5h9M213.5 444v9M211 458.5h9M215.5 454v9M251 459.5h9M255.5 455v9M280 463.5h9M284.5 459v9M322 456.5h9M326.5 452v9M307 457.5h9M311.5 453v9M322 445.5h9M326.5 441v9M305 447.5h9M309.5 443v9M333 453.5h9M337.5 449v9M309 450.5h9M313.5 446v9M313 458.5h9M317.5 454v9M337 449.5h9M341.5 445v9M311 458.5h9M315.5 454v9M330 463.5h9M334.5 459v9M318 453.5h9M322.5 449v9M331 458.5h9M335.5 454v9M311 451.5h9M315.5 447v9M308 446.5h9M312.5 442v9M315 464.5h9M319.5 460v9M319 457.5h9M323.5 453v9M311 458.5h9M315.5 454v9M284 449.5h9M288.5 445v9M327 455.5h9M331.5 451v9M307 458.5h9M311.5 454v9M327 446.5h9M331.5 442v9M322 455.5h9M326.5 451v9M339 451.5h9M343.5 447v9M325 450.5h9M329.5 446v9M284 446.5h9M288.5 442v9M318 461.5h9M322.5 457v9M322 462.5h9M326.5 458v9M322 447.5h9M326.5 443v9M323 451.5h9M327.5 447v9M289 461.5h9M293.5 457v9M304 462.5h9M308.5 458v9M338 461.5h9M342.5 457v9M344 458.5h9M348.5 454v9M305 449.5h9M309.5 445v9M331 461.5h9M335.5 457v9M298 456.5h9M302.5 452v9M346 447.5h9M350.5 443v9M286 449.5h9M290.5 445v9M309 451.5h9M313.5 447v9M302 463.5h9M306.5 459v9M292 455.5h9M296.5 451v9M331 454.5h9M335.5 450v9M334 449.5h9M338.5 445v9M327 446.5h9M331.5 442v9M301 448.5h9M305.5 444v9M313 453.5h9M317.5 449v9M325 453.5h9M329.5 449v9M315 452.5h9M319.5 448v9M311 462.5h9M315.5 458v9M338 445.5h9M342.5 441v9M299 452.5h9M303.5 448v9M329 448.5h9M333.5 444v9M341 463.5h9M345.5 459v9M300 462.5h9M304.5 458v9M307 448.5h9M311.5 444v9M359 459.5h9M363.5 455v9M317 456.5h9M321.5 452v9M310 452.5h9M314.5 448v9M294 453.5h9M298.5 449v9M285 464.5h9M289.5 460v9M352 463.5h9M356.5 459v9M329 450.5h9M333.5 446v9M315 458.5h9M319.5 454v9M295 453.5h9M299.5 449v9M306 457.5h9M310.5 453v9M318 459.5h9M322.5 455v9M313 463.5h9M317.5 459v9M290 462.5h9M294.5 458v9M275 448.5h9M279.5 444v9M329 456.5h9M333.5 452v9M328 445.5h9M332.5 441v9M306 462.5h9M310.5 458v9M315 455.5h9M319.5 451v9M314 464.5h9M318.5 460v9M304 464.5h9M308.5 460v9M282 459.5h9M286.5 455v9M275 453.5h9M279.5 449v9M325 448.5h9M329.5 444v9M281 445.5h9M285.5 441v9M273 463.5h9M277.5 459v9M319 464.5h9M323.5 460v9M333 456.5h9M337.5 452v9M276 446.5h9M280.5 442v9M341 462.5h9M345.5 458v9M310 458.5h9M314.5 454v9M331 449.5h9M335.5 445v9M272 464.5h9M276.5 460v9M343 453.5h9M347.5 449v9M349 453.5h9M353.5 449v9M296 449.5h9M300.5 445v9M355 447.5h9M359.5 443v9M327 460.5h9M331.5 456v9M371 455.5h9M375.5 451v9M361 464.5h9M365.5 460v9M366 449.5h9M370.5 445v9M348 483.5h9M352.5 479v9M336 481.5h9M340.5 477v9M367 484.5h9M371.5 480v9M342 478.5h9M346.5 474v9M329 469.5h9M333.5 465v9M374 480.5h9M378.5 476v9M329 472.5h9M333.5 468v9M330 471.5h9M334.5 467v9M299 472.5h9M303.5 468v9M333 484.5h9M337.5 480v9M370 477.5h9M374.5 473v9M351 459.5h9M355.5 455v9M287 481.5h9M291.5 477v9M363 476.5h9M367.5 472v9M358 481.5h9M362.5 477v9M376 479.5h9M380.5 475v9M305 480.5h9M309.5 476v9M306 475.5h9M310.5 471v9M369 478.5h9M373.5 474v9M336 479.5h9M340.5 475v9M383 474.5h9M387.5 470v9M283 474.5h9M287.5 470v9M301 471.5h9M305.5 467v9M363 467.5h9M367.5 463v9M319 476.5h9M323.5 472v9M372 486.5h9M376.5 482v9M336 469.5h9M340.5 465v9M317 478.5h9M321.5 474v9M345 487.5h9M349.5 483v9M341 475.5h9M345.5 471v9M315 482.5h9M319.5 478v9M367 472.5h9M371.5 468v9M384 477.5h9M388.5 473v9M344 472.5h9M348.5 468v9M288 472.5h9M292.5 468v9M348 474.5h9M352.5 470v9M346 463.5h9M350.5 459v9M348 473.5h9M352.5 469v9M283 474.5h9M287.5 470v9M304 484.5h9M308.5 480v9M328 473.5h9M332.5 469v9M315 478.5h9M319.5 474v9M297 470.5h9M301.5 466v9M277 475.5h9M281.5 471v9M335 477.5h9M339.5 473v9M362 477.5h9M366.5 473v9M348 483.5h9M352.5 479v9M368 468.5h9M372.5 464v9M328 481.5h9M332.5 477v9M321 468.5h9M325.5 464v9M291 478.5h9M295.5 474v9M320 475.5h9M324.5 471v9M357 471.5h9M361.5 467v9M362 480.5h9M366.5 476v9M342 474.5h9M346.5 470v9M357 469.5h9M361.5 465v9M305 475.5h9M309.5 471v9M339 472.5h9M343.5 468v9M273 476.5h9M277.5 472v9M302 481.5h9M306.5 477v9M367 468.5h9M371.5 464v9M352 468.5h9M356.5 464v9M310 479.5h9M314.5 475v9M314 479.5h9M318.5 475v9M324 477.5h9M328.5 473v9M296 481.5h9M300.5 477v9M280 480.5h9M284.5 476v9M288 480.5h9M292.5 476v9M290 472.5h9M294.5 468v9M332 479.5h9M336.5 475v9M320 490.5h9M324.5 486v9M342 472.5h9M346.5 468v9M369 477.5h9M373.5 473v9M308 469.5h9M312.5 465v9M362 478.5h9M366.5 474v9M351 467.5h9M355.5 463v9M366 482.5h9M370.5 478v9M330 474.5h9M334.5 470v9M331 473.5h9M335.5 469v9M344 477.5h9M348.5 473v9M279 477.5h9M283.5 473v9M364 477.5h9M368.5 473v9M337 483.5h9M341.5 479v9M302 461.5h9M306.5 457v9M276 473.5h9M280.5 469v9M377 473.5h9M381.5 469v9M298 484.5h9M302.5 480v9M295 475.5h9M299.5 471v9M368 473.5h9M372.5 469v9M379 479.5h9M383.5 475v9M283 470.5h9M287.5 466v9M296 458.5h9M300.5 454v9M274 476.5h9M278.5 472v9M311 472.5h9M315.5 468v9M294 478.5h9M298.5 474v9M285 467.5h9M289.5 463v9M358 469.5h9M362.5 465v9M344 474.5h9M348.5 470v9M278 468.5h9M282.5 464v9M331 477.5h9M335.5 473v9M291 476.5h9M295.5 472v9M274 486.5h9M278.5 482v9M278 467.5h9M282.5 463v9M319 481.5h9M323.5 477v9M369 474.5h9M373.5 470v9M314 473.5h9M318.5 469v9M322 479.5h9M326.5 475v9M327 477.5h9M331.5 473v9M275 478.5h9M279.5 474v9M281 471.5h9M285.5 467v9M357 467.5h9M361.5 463v9M286 476.5h9M290.5 472v9M333 477.5h9M337.5 473v9M334 473.5h9M338.5 469v9M368 477.5h9M372.5 473v9M287 477.5h9M291.5 473v9M341 475.5h9M345.5 471v9M287 483.5h9M291.5 479v9M344 481.5h9M348.5 477v9M353 476.5h9M357.5 472v9M357 469.5h9M361.5 465v9M273 478.5h9M277.5 474v9M283 483.5h9M287.5 479v9M273 471.5h9M277.5 467v9M335 473.5h9M339.5 469v9M286 476.5h9M290.5 472v9M332 483.5h9M336.5 479v9M292 472.5h9M296.5 468v9M320 473.5h9M324.5 469v9M315 478.5h9M319.5 474v9M369 473.5h9M373.5 469v9M291 462.5h9M295.5 458v9M382 476.5h9M386.5 472v9M284 475.5h9M288.5 471v9M306 475.5h9M310.5 471v9M349 481.5h9M353.5 477v9M287 470.5h9M291.5 466v9M311 480.5h9M315.5 476v9M338 478.5h9M342.5 474v9M279 476.5h9M283.5 472v9M331 478.5h9M335.5 474v9M335 476.5h9M339.5 472v9M280 474.5h9M284.5 470v9M381 474.5h9M385.5 470v9M285 473.5h9M289.5 469v9M353 474.5h9M357.5 470v9M308 472.5h9M312.5 468v9M292 471.5h9M296.5 467v9M349 468.5h9M353.5 464v9M310 476.5h9M314.5 472v9M207 470.5h9M211.5 466v9M208 471.5h9M212.5 467v9M365 494.5h9M369.5 490v9M358 489.5h9M362.5 485v9M342 486.5h9M346.5 482v9M346 486.5h9M350.5 482v9M354 489.5h9M358.5 485v9M378 504.5h9M382.5 500v9M352 493.5h9M356.5 489v9M289 490.5h9M293.5 486v9M286 487.5h9M290.5 483v9M365 486.5h9M369.5 482v9M287 488.5h9M291.5 484v9M323 486.5h9M327.5 482v9M355 501.5h9M359.5 497v9M324 491.5h9M328.5 487v9M320 487.5h9M324.5 483v9M351 492.5h9M355.5 488v9M348 496.5h9M352.5 492v9M300 488.5h9M304.5 484v9M370 491.5h9M374.5 487v9M368 490.5h9M372.5 486v9M349 484.5h9M353.5 480v9M295 486.5h9M299.5 482v9M354 491.5h9M358.5 487v9M346 486.5h9M350.5 482v9M294 487.5h9M298.5 483v9M355 490.5h9M359.5 486v9M308 488.5h9M312.5 484v9M289 486.5h9M293.5 482v9M327 484.5h9M331.5 480v9M316 486.5h9M320.5 482v9M319 484.5h9M323.5 480v9M296 487.5h9M300.5 483v9M356 484.5h9M360.5 480v9M358 489.5h9M362.5 485v9M286 485.5h9M290.5 481v9M375 489.5h9M379.5 485v9M333 487.5h9M337.5 483v9M286 485.5h9M290.5 481v9M333 485.5h9M337.5 481v9M352 484.5h9M356.5 480v9M376 489.5h9M380.5 485v9M332 487.5h9M336.5 483v9M327 483.5h9M331.5 479v9M325 484.5h9M329.5 480v9M315 489.5h9M319.5 485v9M335 484.5h9M339.5 480v9M301 486.5h9M305.5 482v9M381 486.5h9M385.5 482v9M325 489.5h9M329.5 485v9M328 490.5h9M332.5 486v9M348 490.5h9M352.5 486v9M308 483.5h9M312.5 479v9M332 488.5h9M336.5 484v9M347 491.5h9M351.5 487v9M347 491.5h9M351.5 487v9M306 487.5h9M310.5 483v9M352 484.5h9M356.5 480v9M372 487.5h9M376.5 483v9M367 483.5h9M371.5 479v9M286 485.5h9M290.5 481v9M373 491.5h9M377.5 487v9M341 489.5h9M345.5 485v9M239 66.5h9M243.5 62v9M297 63.5h9M301.5 59v9M324 254.5h9M328.5 250v9M340 272.5h9M344.5 268v9M350 281.5h9M354.5 277v9M342 299.5h9M346.5 295v9M314 298.5h9M318.5 294v9M344 322.5h9M348.5 318v9M315 338.5h9M319.5 334v9M335 347.5h9M339.5 343v9M330 370.5h9M334.5 366v9M329 387.5h9M333.5 383v9M335 404.5h9M339.5 400v9M370 416.5h9M374.5 412v9M366 434.5h9M370.5 430v9M343 446.5h9M347.5 442v9M227 258.5h9M231.5 254v9M201 278.5h9M205.5 274v9M206 287.5h9M210.5 283v9M198 299.5h9M202.5 295v9M197 307.5h9M201.5 303v9M200 322.5h9M204.5 318v9M220 324.5h9M224.5 320v9M216 332.5h9M220.5 328v9M269 268.5h9M273.5 264v9M268 275.5h9M272.5 271v9M249 279.5h9M253.5 275v9M259 310.5h9M263.5 306v9M263 323.5h9M267.5 319v9M260 342.5h9M264.5 338v9M241 352.5h9M245.5 348v9M265 367.5h9M269.5 363v9M257 390.5h9M261.5 386v9M235 404.5h9M239.5 400v9M238 421.5h9M242.5 417v9M247 430.5h9M251.5 426v9M254 427.5h9M258.5 423v9M258 450.5h9M262.5 446v9M234 446.5h9M238.5 442v9M249 345.5h9M253.5 341v9M258 429.5h9M262.5 425v9M257 460.5h9M261.5 456v9"/>
<path d="M298 246.5h9M302.5 242v9M296 250.5h9M300.5 246v9M296 253.5h9M300.5 249v9M296 268.5h9M300.5 264v9M283 281.5h9M287.5 277v9M298 265.5h9M302.5 261v9M290 282.5h9M294.5 278v9M285 276.5h9M289.5 272v9M289 289.5h9M293.5 285v9M281 290.5h9M285.5 286v9M298 301.5h9M302.5 297v9M289 290.5h9M293.5 286v9M289 301.5h9M293.5 297v9M277 288.5h9M281.5 284v9M305 304.5h9M309.5 300v9M282 315.5h9M286.5 311v9M289 310.5h9M293.5 306v9M296 323.5h9M300.5 319v9M272 316.5h9M276.5 312v9M275 320.5h9M279.5 316v9M305 316.5h9M309.5 312v9M279 309.5h9M283.5 305v9M288 317.5h9M292.5 313v9M222 343.5h9M226.5 339v9M214 343.5h9M218.5 339v9M263 330.5h9M267.5 326v9M304 335.5h9M308.5 331v9M293 341.5h9M297.5 337v9M277 333.5h9M281.5 329v9M274 330.5h9M278.5 326v9M288 331.5h9M292.5 327v9M293 325.5h9M297.5 321v9M283 344.5h9M287.5 340v9M285 335.5h9M289.5 331v9M306 336.5h9M310.5 332v9M274 339.5h9M278.5 335v9M276 338.5h9M280.5 334v9M269 329.5h9M273.5 325v9M287 334.5h9M291.5 330v9M229 363.5h9M233.5 359v9M218 350.5h9M222.5 346v9M206 363.5h9M210.5 359v9M222 354.5h9M226.5 350v9M219 349.5h9M223.5 345v9M298 350.5h9M302.5 346v9M288 347.5h9M292.5 343v9M303 345.5h9M307.5 341v9M307 349.5h9M311.5 345v9M290 360.5h9M294.5 356v9M302 356.5h9M306.5 352v9M286 349.5h9M290.5 345v9M298 345.5h9M302.5 341v9M286 349.5h9M290.5 345v9M297 352.5h9M301.5 348v9M313 351.5h9M317.5 347v9M300 352.5h9M304.5 348v9M282 353.5h9M286.5 349v9M298 345.5h9M302.5 341v9M274 361.5h9M278.5 357v9M319 350.5h9M323.5 346v9M276 359.5h9M280.5 355v9M218 378.5h9M222.5 374v9M224 376.5h9M228.5 372v9M212 372.5h9M216.5 368v9M219 369.5h9M223.5 365v9M214 370.5h9M218.5 366v9M221 369.5h9M225.5 365v9M206 383.5h9M210.5 379v9M251 381.5h9M255.5 377v9M307 381.5h9M311.5 377v9M301 367.5h9M305.5 363v9M303 377.5h9M307.5 373v9M289 380.5h9M293.5 376v9M299 377.5h9M303.5 373v9M307 379.5h9M311.5 375v9M294 380.5h9M298.5 376v9M305 365.5h9M309.5 361v9M293 382.5h9M297.5 378v9M320 372.5h9M324.5 368v9M294 371.5h9M298.5 367v9M307 365.5h9M311.5 361v9M296 369.5h9M300.5 365v9M287 377.5h9M291.5 373v9M298 365.5h9M302.5 361v9M302 365.5h9M306.5 361v9M297 369.5h9M301.5 365v9M301 370.5h9M305.5 366v9M291 382.5h9M295.5 378v9M284 369.5h9M288.5 365v9M293 372.5h9M297.5 368v9M277 366.5h9M281.5 362v9M284 373.5h9M288.5 369v9M309 368.5h9M313.5 364v9M280 373.5h9M284.5 369v9M299 371.5h9M303.5 367v9M313 368.5h9M317.5 364v9M213 387.5h9M217.5 383v9M224 392.5h9M228.5 388v9M199 396.5h9M203.5 392v9M206 391.5h9M210.5 387v9M220 398.5h9M224.5 394v9M215 403.5h9M219.5 399v9M215 389.5h9M219.5 385v9M217 393.5h9M221.5 389v9M209 387.5h9M213.5 383v9M251 390.5h9M255.5 386v9M238 399.5h9M242.5 395v9M314 386.5h9M318.5 382v9M295 387.5h9M299.5 383v9M291 398.5h9M295.5 394v9M291 389.5h9M295.5 385v9M298 394.5h9M302.5 390v9M297 398.5h9M301.5 394v9M293 392.5h9M297.5 388v9M315 395.5h9M319.5 391v9M292 385.5h9M296.5 381v9M290 403.5h9M294.5 399v9M302 388.5h9M306.5 384v9M306 391.5h9M310.5 387v9M289 385.5h9M293.5 381v9M304 385.5h9M308.5 381v9M313 386.5h9M317.5 382v9M296 399.5h9M300.5 395v9M291 392.5h9M295.5 388v9M303 403.5h9M307.5 399v9M283 397.5h9M287.5 393v9M299 393.5h9M303.5 389v9M316 398.5h9M320.5 394v9M311 394.5h9M315.5 390v9M310 402.5h9M314.5 398v9M295 387.5h9M299.5 383v9M308 385.5h9M312.5 381v9M282 390.5h9M286.5 386v9M292 396.5h9M296.5 392v9M305 404.5h9M309.5 400v9M303 397.5h9M307.5 393v9M294 390.5h9M298.5 386v9M301 389.5h9M305.5 385v9M291 401.5h9M295.5 397v9M293 388.5h9M297.5 384v9M293 390.5h9M297.5 386v9M276 385.5h9M280.5 381v9M286 389.5h9M290.5 385v9M319 394.5h9M323.5 390v9M281 399.5h9M285.5 395v9M271 386.5h9M275.5 382v9M292 387.5h9M296.5 383v9M280 391.5h9M284.5 387v9M296 395.5h9M300.5 391v9M308 390.5h9M312.5 386v9M219 407.5h9M223.5 403v9M210 409.5h9M214.5 405v9M216 405.5h9M220.5 401v9M212 422.5h9M216.5 418v9M212 412.5h9M216.5 408v9M219 423.5h9M223.5 419v9M223 417.5h9M227.5 413v9M229 414.5h9M233.5 410v9M230 424.5h9M234.5 420v9M207 415.5h9M211.5 411v9M216 413.5h9M220.5 409v9M225 408.5h9M229.5 404v9M242 410.5h9M246.5 406v9M249 420.5h9M253.5 416v9M325 410.5h9M329.5 406v9M302 415.5h9M306.5 411v9M304 406.5h9M308.5 402v9M297 409.5h9M301.5 405v9M297 409.5h9M301.5 405v9M308 424.5h9M312.5 420v9M291 408.5h9M295.5 404v9M318 413.5h9M322.5 409v9M296 414.5h9M300.5 410v9M319 415.5h9M323.5 411v9M303 411.5h9M307.5 407v9M305 410.5h9M309.5 406v9M286 413.5h9M290.5 409v9M291 405.5h9M295.5 401v9M317 419.5h9M321.5 415v9M305 405.5h9M309.5 401v9M310 410.5h9M314.5 406v9M300 413.5h9M304.5 409v9M292 415.5h9M296.5 411v9M293 415.5h9M297.5 411v9M288 408.5h9M292.5 404v9M303 408.5h9M307.5 404v9M302 406.5h9M306.5 402v9M301 417.5h9M305.5 413v9M306 421.5h9M310.5 417v9M308 412.5h9M312.5 408v9M296 408.5h9M300.5 404v9M302 419.5h9M306.5 415v9M304 418.5h9M308.5 414v9M304 424.5h9M308.5 420v9M294 424.5h9M298.5 420v9M301 412.5h9M305.5 408v9M298 410.5h9M302.5 406v9M298 413.5h9M302.5 409v9M295 412.5h9M299.5 408v9M301 409.5h9M305.5 405v9M295 411.5h9M299.5 407v9M303 415.5h9M307.5 411v9M297 407.5h9M301.5 403v9M296 423.5h9M300.5 419v9M286 414.5h9M290.5 410v9M291 408.5h9M295.5 404v9M301 405.5h9M305.5 401v9M291 416.5h9M295.5 412v9M283 411.5h9M287.5 407v9M307 414.5h9M311.5 410v9M304 408.5h9M308.5 404v9M293 420.5h9M297.5 416v9M313 408.5h9M317.5 404v9M312 413.5h9M316.5 409v9M304 419.5h9M308.5 415v9M318 420.5h9M322.5 416v9M324 406.5h9M328.5 402v9M333 414.5h9M337.5 410v9M329 417.5h9M333.5 413v9M312 421.5h9M316.5 417v9M318 424.5h9M322.5 420v9M330 405.5h9M334.5 401v9M278 418.5h9M282.5 414v9M221 426.5h9M225.5 422v9M214 444.5h9M218.5 440v9M219 425.5h9M223.5 421v9M205 425.5h9M209.5 421v9M209 444.5h9M213.5 440v9M210 435.5h9M214.5 431v9M221 435.5h9M225.5 431v9M202 425.5h9M206.5 421v9M207 426.5h9M211.5 422v9M210 429.5h9M214.5 425v9M247 429.5h9M251.5 425v9M250 432.5h9M254.5 428v9M301 439.5h9M305.5 435v9M293 436.5h9M297.5 432v9M303 439.5h9M307.5 435v9M315 426.5h9M319.5 422v9M312 441.5h9M316.5 437v9M313 436.5h9M317.5 432v9M308 432.5h9M312.5 428v9M308 433.5h9M312.5 429v9M312 442.5h9M316.5 438v9M297 434.5h9M301.5 430v9M308 444.5h9M312.5 440v9M310 429.5h9M314.5 425v9M273 425.5h9M277.5 421v9M299 427.5h9M303.5 423v9M302 442.5h9M306.5 438v9M303 444.5h9M307.5 440v9M324 426.5h9M328.5 422v9M314 436.5h9M318.5 432v9M295 426.5h9M299.5 422v9M304 433.5h9M308.5 429v9M306 438.5h9M310.5 434v9M301 429.5h9M305.5 425v9M292 431.5h9M296.5 427v9M324 428.5h9M328.5 424v9M306 443.5h9M310.5 439v9M310 438.5h9M314.5 434v9M298 440.5h9M302.5 436v9M327 428.5h9M331.5 424v9M287 441.5h9M291.5 437v9M305 427.5h9M309.5 423v9M298 430.5h9M302.5 426v9M313 432.5h9M317.5 428v9M304 428.5h9M308.5 424v9M314 435.5h9M318.5 431v9M318 432.5h9M322.5 428v9M290 440.5h9M294.5 436v9M317 425.5h9M321.5 421v9M302 438.5h9M306.5 434v9M294 435.5h9M298.5 431v9M298 431.5h9M302.5 427v9M302 443.5h9M306.5 439v9M298 430.5h9M302.5 426v9M291 443.5h9M295.5 439v9M311 444.5h9M315.5 440v9M294 442.5h9M298.5 438v9M304 436.5h9M308.5 432v9M290 442.5h9M294.5 438v9M309 441.5h9M313.5 437v9M300 431.5h9M304.5 427v9M310 429.5h9M314.5 425v9M291 440.5h9M295.5 436v9M303 442.5h9M307.5 438v9M310 434.5h9M314.5 430v9M322 430.5h9M326.5 426v9M308 442.5h9M312.5 438v9M307 442.5h9M311.5 438v9M293 441.5h9M297.5 437v9M276 433.5h9M280.5 429v9M332 435.5h9M336.5 431v9M318 439.5h9M322.5 435v9M282 444.5h9M286.5 440v9M337 437.5h9M341.5 433v9M260 442.5h9M264.5 438v9M302 427.5h9M306.5 423v9M318 444.5h9M322.5 440v9M315 425.5h9M319.5 421v9M341 440.5h9M345.5 436v9M270 441.5h9M274.5 437v9M288 443.5h9M292.5 439v9M339 437.5h9M343.5 433v9M277 427.5h9M281.5 423v9M262 428.5h9M266.5 424v9M350 444.5h9M354.5 440v9M361 432.5h9M365.5 428v9M216 446.5h9M220.5 442v9M215 446.5h9M219.5 442v9M212 462.5h9M216.5 458v9M216 452.5h9M220.5 448v9M301 454.5h9M305.5 450v9M319 456.5h9M323.5 452v9M330 458.5h9M334.5 454v9M320 449.5h9M324.5 445v9M306 461.5h9M310.5 457v9M323 447.5h9M327.5 443v9M333 462.5h9M337.5 458v9M303 462.5h9M307.5 458v9M287 462.5h9M291.5 458v9M300 458.5h9M304.5 454v9M307 448.5h9M311.5 444v9M317 452.5h9M321.5 448v9M307 456.5h9M311.5 452v9M322 464.5h9M326.5 460v9M312 457.5h9M316.5 453v9M324 458.5h9M328.5 454v9M323 455.5h9M327.5 451v9M309 460.5h9M313.5 456v9M293 449.5h9M297.5 445v9M334 456.5h9M338.5 452v9M313 459.5h9M317.5 455v9M313 449.5h9M317.5 445v9M308 445.5h9M312.5 441v9M296 455.5h9M300.5 451v9M287 460.5h9M291.5 456v9M360 463.5h9M364.5 459v9M308 464.5h9M312.5 460v9M319 460.5h9M323.5 456v9M329 464.5h9M333.5 460v9M319 449.5h9M323.5 445v9M320 461.5h9M324.5 457v9M319 452.5h9M323.5 448v9M314 463.5h9M318.5 459v9M328 451.5h9M332.5 447v9M310 462.5h9M314.5 458v9M326 445.5h9M330.5 441v9M328 457.5h9M332.5 453v9M323 454.5h9M327.5 450v9M317 456.5h9M321.5 452v9M313 449.5h9M317.5 445v9M312 455.5h9M316.5 451v9M286 462.5h9M290.5 458v9M333 447.5h9M337.5 443v9M315 451.5h9M319.5 447v9M290 459.5h9M294.5 455v9M341 458.5h9M345.5 454v9M294 451.5h9M298.5 447v9M333 463.5h9M337.5 459v9M303 452.5h9M307.5 448v9M287 453.5h9M291.5 449v9M319 458.5h9M323.5 454v9M305 454.5h9M309.5 450v9M290 450.5h9M294.5 446v9M312 448.5h9M316.5 444v9M334 463.5h9M338.5 459v9M314 464.5h9M318.5 460v9M294 464.5h9M298.5 460v9M318 448.5h9M322.5 444v9M280 457.5h9M284.5 453v9M313 461.5h9M317.5 457v9M355 463.5h9M359.5 459v9M308 460.5h9M312.5 456v9M314 460.5h9M318.5 456v9M340 453.5h9M344.5 449v9M311 463.5h9M315.5 459v9M332 447.5h9M336.5 443v9M304 461.5h9M308.5 457v9M311 463.5h9M315.5 459v9M284 450.5h9M288.5 446v9M306 463.5h9M310.5 459v9M305 453.5h9M309.5 449v9M332 452.5h9M336.5 448v9M316 450.5h9M320.5 446v9M306 457.5h9M310.5 453v9M337 458.5h9M341.5 454v9M297 453.5h9M301.5 449v9M305 461.5h9M309.5 457v9M315 450.5h9M319.5 446v9M290 461.5h9M294.5 457v9M276 446.5h9M280.5 442v9M282 448.5h9M286.5 444v9M268 448.5h9M272.5 444v9M357 454.5h9M361.5 450v9M364 461.5h9M368.5 457v9M339 448.5h9M343.5 444v9M327 463.5h9M331.5 459v9M283 460.5h9M287.5 456v9M308 452.5h9M312.5 448v9M313 461.5h9M317.5 457v9M304 448.5h9M308.5 444v9M303 445.5h9M307.5 441v9M350 456.5h9M354.5 452v9M361 449.5h9M365.5 445v9M344 460.5h9M348.5 456v9M366 464.5h9M370.5 460v9M372 455.5h9M376.5 451v9M372 452.5h9M376.5 448v9M287 473.5h9M291.5 469v9M359 472.5h9M363.5 468v9M336 477.5h9M340.5 473v9M304 487.5h9M308.5 483v9M288 470.5h9M292.5 466v9M333 477.5h9M337.5 473v9M348 483.5h9M352.5 479v9M287 471.5h9M291.5 467v9M291 481.5h9M295.5 477v9M306 472.5h9M310.5 468v9M283 478.5h9M287.5 474v9M301 477.5h9M305.5 473v9M315 470.5h9M319.5 466v9M305 468.5h9M309.5 464v9M364 481.5h9M368.5 477v9M301 475.5h9M305.5 471v9M325 471.5h9M329.5 467v9M316 480.5h9M320.5 476v9M287 474.5h9M291.5 470v9M348 480.5h9M352.5 476v9M360 473.5h9M364.5 469v9M322 469.5h9M326.5 465v9M361 475.5h9M365.5 471v9M347 478.5h9M351.5 474v9M320 476.5h9M324.5 472v9M373 482.5h9M377.5 478v9M343 471.5h9M347.5 467v9M311 480.5h9M315.5 476v9M295 478.5h9M299.5 474v9M341 475.5h9M345.5 471v9M278 474.5h9M282.5 470v9M376 466.5h9M380.5 462v9M332 462.5h9M336.5 458v9M315 483.5h9M319.5 479v9M377 476.5h9M381.5 472v9M358 475.5h9M362.5 471v9M312 466.5h9M316.5 462v9M358 471.5h9M362.5 467v9M297 467.5h9M301.5 463v9M296 479.5h9M300.5 475v9M324 475.5h9M328.5 471v9M374 473.5h9M378.5 469v9M320 484.5h9M324.5 480v9M325 475.5h9M329.5 471v9M288 483.5h9M292.5 479v9M332 473.5h9M336.5 469v9M336 471.5h9M340.5 467v9M307 483.5h9M311.5 479v9M309 484.5h9M313.5 480v9M292 474.5h9M296.5 470v9M328 486.5h9M332.5 482v9M364 476.5h9M368.5 472v9M374 469.5h9M378.5 465v9M347 482.5h9M351.5 478v9M297 470.5h9M301.5 466v9M286 475.5h9M290.5 471v9M332 480.5h9M336.5 476v9M279 474.5h9M283.5 470v9M387 483.5h9M391.5 479v9M338 471.5h9M342.5 467v9M354 483.5h9M358.5 479v9M354 475.5h9M358.5 471v9M315 475.5h9M319.5 471v9M364 479.5h9M368.5 475v9M357 479.5h9M361.5 475v9M303 479.5h9M307.5 475v9M291 482.5h9M295.5 478v9M316 470.5h9M320.5 466v9M345 477.5h9M349.5 473v9M304 480.5h9M308.5 476v9M354 477.5h9M358.5 473v9M310 483.5h9M314.5 479v9M296 475.5h9M300.5 471v9M283 467.5h9M287.5 463v9M379 467.5h9M383.5 463v9M368 478.5h9M372.5 474v9M320 469.5h9M324.5 465v9M339 482.5h9M343.5 478v9M335 471.5h9M339.5 467v9M353 473.5h9M357.5 469v9M334 479.5h9M338.5 475v9M313 479.5h9M317.5 475v9M347 470.5h9M351.5 466v9M288 476.5h9M292.5 472v9M381 475.5h9M385.5 471v9M365 476.5h9M369.5 472v9M355 478.5h9M359.5 474v9M330 474.5h9M334.5 470v9M274 469.5h9M278.5 465v9M326 480.5h9M330.5 476v9M320 477.5h9M324.5 473v9M319 473.5h9M323.5 469v9M324 477.5h9M328.5 473v9M276 482.5h9M280.5 478v9M344 472.5h9M348.5 468v9M359 473.5h9M363.5 469v9M381 464.5h9M385.5 460v9M306 480.5h9M310.5 476v9M341 483.5h9M345.5 479v9M325 477.5h9M329.5 473v9M274 480.5h9M278.5 476v9M324 484.5h9M328.5 480v9M376 479.5h9M380.5 475v9M295 479.5h9M299.5 475v9M294 472.5h9M298.5 468v9M381 469.5h9M385.5 465v9M363 474.5h9M367.5 470v9M319 480.5h9M323.5 476v9M311 478.5h9M315.5 474v9M342 486.5h9M346.5 482v9M288 473.5h9M292.5 469v9M285 487.5h9M289.5 483v9M288 469.5h9M292.5 465v9M325 479.5h9M329.5 475v9M285 478.5h9M289.5 474v9M297 466.5h9M301.5 462v9M277 475.5h9M281.5 471v9M284 478.5h9M288.5 474v9M304 477.5h9M308.5 473v9M304 466.5h9M308.5 462v9M285 479.5h9M289.5 475v9M337 475.5h9M341.5 471v9M335 482.5h9M339.5 478v9M341 474.5h9M345.5 470v9M282 473.5h9M286.5 469v9M280 489.5h9M284.5 485v9M285 485.5h9M289.5 481v9M358 470.5h9M362.5 466v9M278 481.5h9M282.5 477v9M377 471.5h9M381.5 467v9M275 468.5h9M279.5 464v9M365 464.5h9M369.5 460v9M315 481.5h9M319.5 477v9M327 480.5h9M331.5 476v9M285 474.5h9M289.5 470v9M333 468.5h9M337.5 464v9M302 469.5h9M306.5 465v9M301 478.5h9M305.5 474v9M287 474.5h9M291.5 470v9M362 479.5h9M366.5 475v9M281 471.5h9M285.5 467v9M289 470.5h9M293.5 466v9M351 482.5h9M355.5 478v9M360 467.5h9M364.5 463v9M288 468.5h9M292.5 464v9M287 479.5h9M291.5 475v9M319 481.5h9M323.5 477v9M278 481.5h9M282.5 477v9M340 478.5h9M344.5 474v9M348 484.5h9M352.5 480v9M205 466.5h9M209.5 462v9M221 469.5h9M225.5 465v9M294 487.5h9M298.5 483v9M287 488.5h9M291.5 484v9M310 486.5h9M314.5 482v9M296 489.5h9M300.5 485v9M368 487.5h9M372.5 483v9M341 486.5h9M345.5 482v9M334 492.5h9M338.5 488v9M362 489.5h9M366.5 485v9M311 491.5h9M315.5 487v9M361 494.5h9M365.5 490v9M290 487.5h9M294.5 483v9M379 487.5h9M383.5 483v9M334 487.5h9M338.5 483v9M329 492.5h9M333.5 488v9M372 498.5h9M376.5 494v9M300 488.5h9M304.5 484v9M314 486.5h9M318.5 482v9M349 487.5h9M353.5 483v9M332 487.5h9M336.5 483v9M300 485.5h9M304.5 481v9M305 484.5h9M309.5 480v9M377 487.5h9M381.5 483v9M373 491.5h9M377.5 487v9M304 486.5h9M308.5 482v9M346 487.5h9M350.5 483v9M356 484.5h9M360.5 480v9M295 483.5h9M299.5 479v9M331 488.5h9M335.5 484v9M357 489.5h9M361.5 485v9M346 491.5h9M350.5 487v9M311 487.5h9M315.5 483v9M341 488.5h9M345.5 484v9M381 489.5h9M385.5 485v9M372 483.5h9M376.5 479v9M360 484.5h9M364.5 480v9M377 487.5h9M381.5 483v9M282 483.5h9M286.5 479v9M377 491.5h9M381.5 487v9M337 483.5h9M341.5 479v9M342 483.5h9M346.5 479v9M365 492.5h9M369.5 488v9M349 484.5h9M353.5 480v9M286 484.5h9M290.5 480v9M337 485.5h9M341.5 481v9M377 488.5h9M381.5 484v9M326 483.5h9M330.5 479v9M374 483.5h9M378.5 479v9M366 491.5h9M370.5 487v9M374 487.5h9M378.5 483v9M293 484.5h9M297.5 480v9M379 492.5h9M383.5 488v9M374 491.5h9M378.5 487v9M333 485.5h9M337.5 481v9M338 487.5h9M342.5 483v9M341 489.5h9M345.5 485v9M342 489.5h9M346.5 485v9M279 485.5h9M283.5 481v9M307 485.5h9M311.5 481v9M292 483.5h9M296.5 479v9M331 487.5h9M335.5 483v9M378 491.5h9M382.5 487v9M291 493.5h9M295.5 489v9M247 65.5h9M251.5 61v9M301 62.5h9M305.5 58v9M328 256.5h9M332.5 252v9M311 270.5h9M315.5 266v9M318 282.5h9M322.5 278v9M336 302.5h9M340.5 298v9M313 311.5h9M317.5 307v9M353 327.5h9M357.5 323v9M328 335.5h9M332.5 331v9M342 351.5h9M346.5 347v9M332 372.5h9M336.5 368v9M331 390.5h9M335.5 386v9M340 407.5h9M344.5 403v9M341 418.5h9M345.5 414v9M364 436.5h9M368.5 432v9M198 253.5h9M202.5 249v9M220 266.5h9M224.5 262v9M211 280.5h9M215.5 276v9M209 288.5h9M213.5 284v9M201 300.5h9M205.5 296v9M204 308.5h9M208.5 304v9M218 317.5h9M222.5 313v9M198 327.5h9M202.5 323v9M207 333.5h9M211.5 329v9M272 259.5h9M276.5 255v9M241 259.5h9M245.5 255v9M264 284.5h9M268.5 280v9M263 311.5h9M267.5 307v9M265 321.5h9M269.5 317v9M264 343.5h9M268.5 339v9M250 345.5h9M254.5 341v9M251 373.5h9M255.5 369v9M259 388.5h9M263.5 384v9M241 408.5h9M245.5 404v9M253 420.5h9M257.5 416v9M259 430.5h9M263.5 426v9M264 440.5h9M268.5 436v9M261 453.5h9M265.5 449v9M239 464.5h9M243.5 460v9M257 387.5h9M261.5 383v9M252 426.5h9M256.5 422v9"/>
</g>
<path d="M241.33 255.33l8.34 8.34m-8.34 0l8.34 -8.34M245.33 255.33l8.34 8.34m-8.34 0l8.34 -8.34M259.33 263.33l8.34 8.34m-8.34 0l8.34 -8.34M247.33 269.33l8.34 8.34m-8.34 0l8.34 -8.34M261.33 270.33l8.34 8.34m-8.34 0l8.34 -8.34M249.33 275.33l8.34 8.34m-8.34 0l8.34 -8.34M264.33 280.33l8.34 8.34m-8.34 0l8.34 -8.34M235.33 294.33l8.34 8.34m-8.34 0l8.34 -8.34M241.33 296.33l8.34 8.34m-8.34 0l8.34 -8.34M251.33 298.33l8.34 8.34m-8.34 0l8.34 -8.34M254.33 302.33l8.34 8.34m-8.34 0l8.34 -8.34M259.33 306.33l8.34 8.34m-8.34 0l8.34 -8.34M263.33 307.33l8.34 8.34m-8.34 0l8.34 -8.34M242.33 309.33l8.34 8.34m-8.34 0l8.34 -8.34M245.33 319.33l8.34 8.34m-8.34 0l8.34 -8.34M253.33 317.33l8.34 8.34m-8.34 0l8.34 -8.34M259.33 318.33l8.34 8.34m-8.34 0l8.34 -8.34M263.33 319.33l8.34 8.34m-8.34 0l8.34 -8.34M265.33 317.33l8.34 8.34m-8.34 0l8.34 -8.34M220.33 331.33l8.34 8.34m-8.34 0l8.34 -8.34M231.33 331.33l8.34 8.34m-8.34 0l8.34 -8.34M249.33 339.33l8.34 8.34m-8.34 0l8.34 -8.34M256.33 337.33l8.34 8.34m-8.34 0l8.34 -8.34M260.33 338.33l8.34 8.34m-8.34 0l8.34 -8.34M264.33 339.33l8.34 8.34m-8.34 0l8.34 -8.34M191.33 346.33l8.34 8.34m-8.34 0l8.34 -8.34M196.33 382.33l8.34 8.34m-8.34 0l8.34 -8.34M212.33 356.33l8.34 8.34m-8.34 0l8.34 -8.34M221.33 352.33l8.34 8.34m-8.34 0l8.34 -8.34M241.33 348.33l8.34 8.34m-8.34 0l8.34 -8.34M250.33 341.33l8.34 8.34m-8.34 0l8.34 -8.34M264.33 341.33l8.34 8.34m-8.34 0l8.34 -8.34M259.33 351.33l8.34 8.34m-8.34 0l8.34 -8.34M257.33 356.33l8.34 8.34m-8.34 0l8.34 -8.34M247.33 356.33l8.34 8.34m-8.34 0l8.34 -8.34M265.33 363.33l8.34 8.34m-8.34 0l8.34 -8.34M251.33 369.33l8.34 8.34m-8.34 0l8.34 -8.34M242.33 372.33l8.34 8.34m-8.34 0l8.34 -8.34M259.33 378.33l8.34 8.34m-8.34 0l8.34 -8.34M243.33 384.33l8.34 8.34m-8.34 0l8.34 -8.34M255.33 385.33l8.34 8.34m-8.34 0l8.34 -8.34M257.33 386.33l8.34 8.34m-8.34 0l8.34 -8.34M259.33 384.33l8.34 8.34m-8.34 0l8.34 -8.34M218.33 391.33l8.34 8.34m-8.34 0l8.34 -8.34M231.33 390.33l8.34 8.34m-8.34 0l8.34 -8.34M250.33 396.33l8.34 8.34m-8.34 0l8.34 -8.34M257.33 396.33l8.34 8.34m-8.34 0l8.34 -8.34M235.33 400.33l8.34 8.34m-8.34 0l8.34 -8.34M241.33 404.33l8.34 8.34m-8.34 0l8.34 -8.34M250.33 406.33l8.34 8.34m-8.34 0l8.34 -8.34M236.33 409.33l8.34 8.34m-8.34 0l8.34 -8.34M261.33 411.33l8.34 8.34m-8.34 0l8.34 -8.34M206.33 414.33l8.34 8.34m-8.34 0l8.34 -8.34M238.33 417.33l8.34 8.34m-8.34 0l8.34 -8.34M253.33 416.33l8.34 8.34m-8.34 0l8.34 -8.34M221.33 418.33l8.34 8.34m-8.34 0l8.34 -8.34M225.33 421.33l8.34 8.34m-8.34 0l8.34 -8.34M215.33 425.33l8.34 8.34m-8.34 0l8.34 -8.34M250.33 422.33l8.34 8.34m-8.34 0l8.34 -8.34M247.33 426.33l8.34 8.34m-8.34 0l8.34 -8.34M259.33 426.33l8.34 8.34m-8.34 0l8.34 -8.34M250.33 431.33l8.34 8.34m-8.34 0l8.34 -8.34M262.33 431.33l8.34 8.34m-8.34 0l8.34 -8.34M252.33 417.33l8.34 8.34m-8.34 0l8.34 -8.34M248.33 424.33l8.34 8.34m-8.34 0l8.34 -8.34M254.33 423.33l8.34 8.34m-8.34 0l8.34 -8.34M264.33 436.33l8.34 8.34m-8.34 0l8.34 -8.34M251.33 431.33l8.34 8.34m-8.34 0l8.34 -8.34M252.33 437.33l8.34 8.34m-8.34 0l8.34 -8.34M254.33 441.33l8.34 8.34m-8.34 0l8.34 -8.34M256.33 444.33l8.34 8.34m-8.34 0l8.34 -8.34M258.33 446.33l8.34 8.34m-8.34 0l8.34 -8.34M261.33 449.33l8.34 8.34m-8.34 0l8.34 -8.34M246.33 448.33l8.34 8.34m-8.34 0l8.34 -8.34M254.33 450.33l8.34 8.34m-8.34 0l8.34 -8.34M263.33 455.33l8.34 8.34m-8.34 0l8.34 -8.34M224.33 441.33l8.34 8.34m-8.34 0l8.34 -8.34M234.33 442.33l8.34 8.34m-8.34 0l8.34 -8.34M239.33 460.33l8.34 8.34m-8.34 0l8.34 -8.34M261.33 465.33l8.34 8.34m-8.34 0l8.34 -8.34M259.33 484.33l8.34 8.34m-8.34 0l8.34 -8.34M249.33 346.33l8.34 8.34m-8.34 0l8.34 -8.34M260.33 339.33l8.34 8.34m-8.34 0l8.34 -8.34M249.33 341.33l8.34 8.34m-8.34 0l8.34 -8.34M257.33 383.33l8.34 8.34m-8.34 0l8.34 -8.34M255.33 389.33l8.34 8.34m-8.34 0l8.34 -8.34M252.33 420.33l8.34 8.34m-8.34 0l8.34 -8.34M259.33 422.33l8.34 8.34m-8.34 0l8.34 -8.34M253.33 416.33l8.34 8.34m-8.34 0l8.34 -8.34M258.33 425.33l8.34 8.34m-8.34 0l8.34 -8.34M252.33 422.33l8.34 8.34m-8.34 0l8.34 -8.34M261.33 442.33l8.34 8.34m-8.34 0l8.34 -8.34M255.33 443.33l8.34 8.34m-8.34 0l8.34 -8.34M256.33 447.33l8.34 8.34m-8.34 0l8.34 -8.34M259.33 316.33l8.34 8.34m-8.34 0l8.34 -8.34M257.33 456.33l8.34 8.34m-8.34 0l8.34 -8.34" stroke="#0000ff" stroke-width="0.9" stroke-opacity="0.9" fill="none"/>
<g fill="#bf00bf" stroke="#000" stroke-width="0.75">
<circle cx="244.2" cy="479.0" r="4.2"/>
<circle cx="254.8" cy="477.7" r="4.2"/>
<circle cx="247.5" cy="482.4" r="4.2"/>
<circle cx="239.6" cy="481.4" r="4.2"/>
<circle cx="255.3" cy="481.6" r="4.2"/>
<circle cx="260.5" cy="479.2" r="4.2"/>
<circle cx="225.1" cy="479.8" r="4.2"/>
<circle cx="259.0" cy="479.7" r="4.2"/>
<circle cx="237.4" cy="477.6" r="4.2"/>
<circle cx="233.2" cy="480.6" r="4.2"/>
<circle cx="225.1" cy="478.9" r="4.2"/>
<circle cx="215.1" cy="477.3" r="4.2"/>
<circle cx="227.4" cy="481.4" r="4.2"/>
<circle cx="228.7" cy="479.2" r="4.2"/>
<circle cx="245.0" cy="476.5" r="4.2"/>
<circle cx="268.0" cy="483.4" r="4.2"/>
<circle cx="219.4" cy="480.1" r="4.2"/>
<circle cx="237.4" cy="481.1" r="4.2"/>
<circle cx="228.2" cy="478.0" r="4.2"/>
<circle cx="216.1" cy="476.2" r="4.2"/>
<circle cx="213.5" cy="481.2" r="4.2"/>
<circle cx="219.6" cy="481.0" r="4.2"/>
<circle cx="236.6" cy="477.8" r="4.2"/>
<circle cx="267.1" cy="482.3" r="4.2"/>
<circle cx="267.7" cy="477.4" r="4.2"/>
<circle cx="219.5" cy="481.3" r="4.2"/>
<circle cx="246.8" cy="483.0" r="4.2"/>
<circle cx="220.0" cy="477.1" r="4.2"/>
<circle cx="221.5" cy="482.4" r="4.2"/>
<circle cx="255.5" cy="478.1" r="4.2"/>
<circle cx="215.8" cy="479.6" r="4.2"/>
<circle cx="254.0" cy="479.6" r="4.2"/>
<circle cx="257.3" cy="479.8" r="4.2"/>
<circle cx="253.8" cy="480.0" r="4.2"/>
<circle cx="268.9" cy="478.5" r="4.2"/>
<circle cx="230.8" cy="478.6" r="4.2"/>
<circle cx="258.3" cy="481.8" r="4.2"/>
<circle cx="224.6" cy="479.5" r="4.2"/>
<circle cx="268.8" cy="478.0" r="4.2"/>
<circle cx="229.7" cy="480.9" r="4.2"/>
<circle cx="253.3" cy="482.1" r="4.2"/>
<circle cx="260.7" cy="479.7" r="4.2"/>
<circle cx="234.8" cy="476.7" r="4.2"/>
<circle cx="267.3" cy="481.6" r="4.2"/>
<circle cx="255.0" cy="478.8" r="4.2"/>
<circle cx="264.4" cy="476.3" r="4.2"/>
<circle cx="266.3" cy="478.0" r="4.2"/>
<circle cx="212.4" cy="479.5" r="4.2"/>
<circle cx="242.0" cy="479.9" r="4.2"/>
<circle cx="268.6" cy="479.9" r="4.2"/>
<circle cx="229.5" cy="480.2" r="4.2"/>
<circle cx="232.5" cy="479.8" r="4.2"/>
<circle cx="256.7" cy="478.5" r="4.2"/>
<circle cx="239.8" cy="477.3" r="4.2"/>
<circle cx="217.2" cy="481.6" r="4.2"/>
<circle cx="239.2" cy="476.9" r="4.2"/>
<circle cx="244.0" cy="480.7" r="4.2"/>
<circle cx="239.1" cy="477.7" r="4.2"/>
<circle cx="239.6" cy="479.6" r="4.2"/>
<circle cx="231.1" cy="476.7" r="4.2"/>
<circle cx="256.3" cy="477.8" r="4.2"/>
<circle cx="233.5" cy="482.0" r="4.2"/>
<circle cx="263.3" cy="483.1" r="4.2"/>
<circle cx="233.7" cy="478.6" r="4.2"/>
<circle cx="232.0" cy="477.4" r="4.2"/>
<circle cx="213.9" cy="481.0" r="4.2"/>
<circle cx="243.1" cy="480.6" r="4.2"/>
<circle cx="262.8" cy="479.6" r="4.2"/>
<circle cx="244.6" cy="483.1" r="4.2"/>
<circle cx="253.0" cy="479.9" r="4.2"/>
<circle cx="254.9" cy="479.0" r="4.2"/>
<circle cx="260.7" cy="480.4" r="4.2"/>
<circle cx="262.0" cy="479.6" r="4.2"/>
<circle cx="240.5" cy="478.5" r="4.2"/>
<circle cx="241.3" cy="478.4" r="4.2"/>
<circle cx="238.1" cy="481.6" r="4.2"/>
<circle cx="267.9" cy="476.1" r="4.2"/>
<circle cx="263.8" cy="476.0" r="4.2"/>
<circle cx="222.1" cy="480.2" r="4.2"/>
<circle cx="246.1" cy="478.0" r="4.2"/>
<circle cx="244.1" cy="479.8" r="4.2"/>
<circle cx="250.6" cy="478.2" r="4.2"/>
<circle cx="233.1" cy="480.4" r="4.2"/>
<circle cx="248.7" cy="477.6" r="4.2"/>
<circle cx="268.8" cy="479.9" r="4.2"/>
<circle cx="263.1" cy="480.1" r="4.2"/>
<circle cx="241.9" cy="477.6" r="4.2"/>
<circle cx="262.8" cy="476.9" r="4.2"/>
<circle cx="234.0" cy="481.9" r="4.2"/>
<circle cx="253.4" cy="479.7" r="4.2"/>
<circle cx="259.4" cy="478.5" r="4.2"/>
<circle cx="232.9" cy="481.5" r="4.2"/>
<circle cx="231.5" cy="476.6" r="4.2"/>
<circle cx="215.5" cy="481.9" r="4.2"/>
<circle cx="268.4" cy="480.5" r="4.2"/>
<circle cx="248.6" cy="477.4" r="4.2"/>
<circle cx="229.1" cy="480.3" r="4.2"/>
<circle cx="233.8" cy="475.8" r="4.2"/>
<circle cx="240.5" cy="480.2" r="4.2"/>
<circle cx="260.6" cy="481.4" r="4.2"/>
<circle cx="248.6" cy="477.2" r="4.2"/>
<circle cx="222.6" cy="480.8" r="4.2"/>
<circle cx="212.2" cy="478.3" r="4.2"/>
<circle cx="222.5" cy="481.9" r="4.2"/>
<circle cx="242.9" cy="479.2" r="4.2"/>
<circle cx="254.2" cy="481.3" r="4.2"/>
<circle cx="232.6" cy="479.7" r="4.2"/>
<circle cx="233.4" cy="476.6" r="4.2"/>
<circle cx="213.8" cy="481.3" r="4.2"/>
<circle cx="245.1" cy="477.8" r="4.2"/>
<circle cx="251.1" cy="475.7" r="4.2"/>
<circle cx="212.5" cy="478.6" r="4.2"/>
<circle cx="267.2" cy="478.4" r="4.2"/>
<circle cx="263.7" cy="478.5" r="4.2"/>
<circle cx="263.0" cy="479.7" r="4.2"/>
<circle cx="247.5" cy="479.7" r="4.2"/>
<circle cx="235.5" cy="476.5" r="4.2"/>
<circle cx="219.5" cy="478.2" r="4.2"/>
<circle cx="260.1" cy="479.3" r="4.2"/>
<circle cx="214.1" cy="481.3" r="4.2"/>
<circle cx="218.1" cy="479.6" r="4.2"/>
<circle cx="265.6" cy="482.3" r="4.2"/>
<circle cx="221.8" cy="479.4" r="4.2"/>
<circle cx="248.5" cy="481.8" r="4.2"/>
<circle cx="232.2" cy="479.3" r="4.2"/>
<circle cx="214.5" cy="478.9" r="4.2"/>
<circle cx="245.0" cy="479.7" r="4.2"/>
<circle cx="214.7" cy="478.8" r="4.2"/>
<circle cx="250.1" cy="483.6" r="4.2"/>
<circle cx="251.4" cy="481.7" r="4.2"/>
<circle cx="221.1" cy="479.3" r="4.2"/>
<circle cx="217.0" cy="480.3" r="4.2"/>
<circle cx="232.1" cy="483.1" r="4.2"/>
<circle cx="254.9" cy="476.8" r="4.2"/>
<circle cx="248.3" cy="477.8" r="4.2"/>
<circle cx="249.4" cy="478.7" r="4.2"/>
<circle cx="240.3" cy="476.9" r="4.2"/>
<circle cx="229.2" cy="482.2" r="4.2"/>
<circle cx="235.1" cy="477.7" r="4.2"/>
<circle cx="231.6" cy="475.7" r="4.2"/>
<circle cx="236.7" cy="478.8" r="4.2"/>
<circle cx="232.2" cy="480.7" r="4.2"/>
<circle cx="257.0" cy="480.8" r="4.2"/>
<circle cx="228.2" cy="482.0" r="4.2"/>
<circle cx="245.0" cy="480.0" r="4.2"/>
<circle cx="239.7" cy="478.9" r="4.2"/>
<circle cx="222.7" cy="478.1" r="4.2"/>
<circle cx="224.6" cy="477.5" r="4.2"/>
<circle cx="225.1" cy="479.3" r="4.2"/>
<circle cx="262.9" cy="481.6" r="4.2"/>
<circle cx="261.8" cy="480.4" r="4.2"/>
<circle cx="238.1" cy="478.0" r="4.2"/>
<circle cx="223.5" cy="475.7" r="4.2"/>
<circle cx="217.2" cy="481.1" r="4.2"/>
<circle cx="234.5" cy="481.2" r="4.2"/>
<circle cx="229.2" cy="483.5" r="4.2"/>
<circle cx="239.8" cy="482.8" r="4.2"/>
<circle cx="241.3" cy="480.9" r="4.2"/>
<circle cx="257.7" cy="479.3" r="4.2"/>
<circle cx="227.0" cy="476.7" r="4.2"/>
<circle cx="226.3" cy="479.4" r="4.2"/>
<circle cx="265.4" cy="479.5" r="4.2"/>
<circle cx="253.1" cy="478.0" r="4.2"/>
<circle cx="216.4" cy="480.0" r="4.2"/>
<circle cx="243.6" cy="480.0" r="4.2"/>
<circle cx="217.6" cy="478.9" r="4.2"/>
<circle cx="251.1" cy="476.4" r="4.2"/>
<circle cx="235.5" cy="480.6" r="4.2"/>
<circle cx="268.0" cy="481.1" r="4.2"/>
<circle cx="242.6" cy="478.6" r="4.2"/>
<circle cx="245.5" cy="476.4" r="4.2"/>
<circle cx="252.2" cy="481.0" r="4.2"/>
<circle cx="258.7" cy="479.9" r="4.2"/>
<circle cx="243.0" cy="482.3" r="4.2"/>
<circle cx="245.3" cy="483.5" r="4.2"/>
<circle cx="237.5" cy="480.3" r="4.2"/>
<circle cx="221.1" cy="481.5" r="4.2"/>
<circle cx="254.2" cy="477.9" r="4.2"/>
<circle cx="254.2" cy="476.7" r="4.2"/>
<circle cx="215.2" cy="476.8" r="4.2"/>
<circle cx="231.0" cy="481.4" r="4.2"/>
<circle cx="224.5" cy="482.3" r="4.2"/>
<circle cx="213.6" cy="480.7" r="4.2"/>
<circle cx="242.8" cy="480.8" r="4.2"/>
<circle cx="238.0" cy="479.6" r="4.2"/>
<circle cx="242.1" cy="480.0" r="4.2"/>
<circle cx="226.4" cy="480.5" r="4.2"/>
<circle cx="220.6" cy="480.3" r="4.2"/>
<circle cx="234.8" cy="481.0" r="4.2"/>
<circle cx="221.3" cy="481.8" r="4.2"/>
<circle cx="253.9" cy="481.2" r="4.2"/>
<circle cx="216.1" cy="478.7" r="4.2"/>
<circle cx="267.0" cy="482.4" r="4.2"/>
<circle cx="255.1" cy="481.4" r="4.2"/>
<circle cx="239.5" cy="480.8" r="4.2"/>
<circle cx="253.1" cy="479.2" r="4.2"/>
<circle cx="263.7" cy="483.0" r="4.2"/>
<circle cx="236.9" cy="477.6" r="4.2"/>
<circle cx="241.2" cy="481.0" r="4.2"/>
<circle cx="226.5" cy="478.3" r="4.2"/>
<circle cx="213.8" cy="480.2" r="4.2"/>
<circle cx="265.0" cy="481.0" r="4.2"/>
<circle cx="229.6" cy="476.6" r="4.2"/>
<circle cx="251.4" cy="483.6" r="4.2"/>
<circle cx="236.7" cy="481.4" r="4.2"/>
<circle cx="228.6" cy="481.1" r="4.2"/>
<circle cx="266.1" cy="475.7" r="4.2"/>
<circle cx="227.4" cy="482.5" r="4.2"/>
<circle cx="214.7" cy="480.5" r="4.2"/>
<circle cx="256.9" cy="479.4" r="4.2"/>
<circle cx="245.9" cy="479.1" r="4.2"/>
<circle cx="236.5" cy="483.6" r="4.2"/>
<circle cx="268.1" cy="475.7" r="4.2"/>
<circle cx="265.0" cy="478.2" r="4.2"/>
<circle cx="233.4" cy="478.7" r="4.2"/>
<circle cx="249.3" cy="476.9" r="4.2"/>
<circle cx="213.3" cy="478.6" r="4.2"/>
<circle cx="223.0" cy="476.8" r="4.2"/>
<circle cx="217.4" cy="482.2" r="4.2"/>
<circle cx="218.1" cy="480.9" r="4.2"/>
<circle cx="260.3" cy="475.7" r="4.2"/>
<circle cx="253.8" cy="483.2" r="4.2"/>
<circle cx="236.4" cy="480.8" r="4.2"/>
<circle cx="246.6" cy="481.8" r="4.2"/>
<circle cx="261.1" cy="481.3" r="4.2"/>
<circle cx="213.3" cy="478.8" r="4.2"/>
<circle cx="249.9" cy="478.8" r="4.2"/>
<circle cx="257.8" cy="477.2" r="4.2"/>
<circle cx="258.3" cy="477.3" r="4.2"/>
<circle cx="219.1" cy="477.3" r="4.2"/>
<circle cx="265.9" cy="479.5" r="4.2"/>
<circle cx="221.6" cy="479.1" r="4.2"/>
<circle cx="248.6" cy="478.3" r="4.2"/>
<circle cx="227.9" cy="483.6" r="4.2"/>
<circle cx="239.7" cy="475.7" r="4.2"/>
<circle cx="229.3" cy="479.8" r="4.2"/>
<circle cx="262.9" cy="479.5" r="4.2"/>
<circle cx="265.9" cy="477.3" r="4.2"/>
<circle cx="262.4" cy="479.9" r="4.2"/>
<circle cx="214.5" cy="477.4" r="4.2"/>
<circle cx="224.6" cy="479.3" r="4.2"/>
<circle cx="248.7" cy="479.1" r="4.2"/>
<circle cx="231.8" cy="477.1" r="4.2"/>
<circle cx="259.9" cy="482.3" r="4.2"/>
<circle cx="254.6" cy="477.6" r="4.2"/>
<circle cx="268.2" cy="480.7" r="4.2"/>
<circle cx="264.8" cy="479.3" r="4.2"/>
<circle cx="263.4" cy="479.4" r="4.2"/>
<circle cx="214.6" cy="482.1" r="4.2"/>
<circle cx="223.2" cy="481.9" r="4.2"/>
<circle cx="254.9" cy="479.4" r="4.2"/>
<circle cx="263.8" cy="478.8" r="4.2"/>
<circle cx="268.9" cy="476.8" r="4.2"/>
<circle cx="257.7" cy="475.7" r="4.2"/>
<circle cx="239.0" cy="482.0" r="4.2"/>
<circle cx="251.7" cy="475.7" r="4.2"/>
<circle cx="216.8" cy="477.7" r="4.2"/>
<circle cx="232.9" cy="482.1" r="4.2"/>
<circle cx="221.5" cy="478.8" r="4.2"/>
<circle cx="239.0" cy="480.2" r="4.2"/>
<circle cx="217.6" cy="479.7" r="4.2"/>
<circle cx="265.3" cy="478.5" r="4.2"/>
<circle cx="218.1" cy="478.0" r="4.2"/>
<circle cx="223.3" cy="477.8" r="4.2"/>
<circle cx="247.7" cy="477.3" r="4.2"/>
<circle cx="222.5" cy="479.1" r="4.2"/>
<circle cx="239.2" cy="481.3" r="4.2"/>
<circle cx="225.9" cy="477.5" r="4.2"/>
<circle cx="231.0" cy="480.4" r="4.2"/>
<circle cx="239.3" cy="479.4" r="4.2"/>
<circle cx="241.3" cy="479.8" r="4.2"/>
<circle cx="218.1" cy="480.0" r="4.2"/>
<circle cx="260.0" cy="478.3" r="4.2"/>
<circle cx="237.7" cy="480.4" r="4.2"/>
<circle cx="215.0" cy="483.2" r="4.2"/>
<circle cx="255.3" cy="481.7" r="4.2"/>
<circle cx="223.2" cy="479.6" r="4.2"/>
<circle cx="230.1" cy="480.6" r="4.2"/>
<circle cx="241.7" cy="479.9" r="4.2"/>
<circle cx="260.3" cy="477.5" r="4.2"/>
<circle cx="268.9" cy="479.4" r="4.2"/>
<circle cx="219.7" cy="479.7" r="4.2"/>
<circle cx="250.3" cy="482.8" r="4.2"/>
<circle cx="215.1" cy="483.0" r="4.2"/>
<circle cx="215.2" cy="481.9" r="4.2"/>
<circle cx="243.6" cy="479.8" r="4.2"/>
<circle cx="246.0" cy="481.2" r="4.2"/>
<circle cx="233.0" cy="481.1" r="4.2"/>
<circle cx="254.1" cy="480.5" r="4.2"/>
<circle cx="222.3" cy="476.9" r="4.2"/>
<circle cx="238.3" cy="481.0" r="4.2"/>
<circle cx="231.9" cy="479.3" r="4.2"/>
<circle cx="247.1" cy="480.4" r="4.2"/>
<circle cx="251.4" cy="479.9" r="4.2"/>
<circle cx="238.3" cy="476.1" r="4.2"/>
<circle cx="217.5" cy="479.2" r="4.2"/>
<circle cx="246.1" cy="478.5" r="4.2"/>
<circle cx="252.7" cy="483.0" r="4.2"/>
<circle cx="235.7" cy="481.9" r="4.2"/>
<circle cx="251.9" cy="482.7" r="4.2"/>
<circle cx="244.1" cy="479.8" r="4.2"/>
<circle cx="225.9" cy="475.7" r="4.2"/>
<circle cx="251.3" cy="480.4" r="4.2"/>
<circle cx="263.5" cy="478.4" r="4.2"/>
<circle cx="229.9" cy="482.4" r="4.2"/>
<circle cx="267.5" cy="479.2" r="4.2"/>
<circle cx="262.4" cy="480.3" r="4.2"/>
<circle cx="238.1" cy="478.0" r="4.2"/>
<circle cx="245.5" cy="480.6" r="4.2"/>
<circle cx="263.2" cy="477.9" r="4.2"/>
<circle cx="224.4" cy="478.8" r="4.2"/>
<circle cx="221.7" cy="479.8" r="4.2"/>
<circle cx="228.6" cy="482.4" r="4.2"/>
<circle cx="247.4" cy="480.7" r="4.2"/>
<circle cx="234.6" cy="480.6" r="4.2"/>
<circle cx="251.0" cy="477.5" r="4.2"/>
<circle cx="216.9" cy="479.7" r="4.2"/>
<circle cx="221.1" cy="480.3" r="4.2"/>
<circle cx="260.4" cy="481.7" r="4.2"/>
<circle cx="233.5" cy="481.9" r="4.2"/>
</g>
<path d="M100.5 482.40H382.5" stroke="#00f" stroke-width="1.39" stroke-dasharray="8.33 8.33" fill="none"/>
<path d="M100.5 479.40H382.5" stroke="#f00" stroke-width="1.39" stroke-dasharray="8.33 8.33" fill="none"/>
<path d="M100.5 484.50H382.5M100.5 474.40H382.5" stroke="#00f" stroke-width="1.39" stroke-dasharray="4.17 6.94 1.39 6.94" fill="none"/>
</g>
<rect x="100.5" y="60.5" width="282.0" height="480.0" fill="none" stroke="#000" stroke-width="1.39"/>
<path d="M100.50 540.5v-6.0M138.10 540.5v-6.0M175.70 540.5v-6.0M213.30 540.5v-6.0M250.90 540.5v-6.0M288.50 540.5v-6.0M326.10 540.5v-6.0M363.70 540.5v-6.0M116.52 60.5v6.0M154.12 60.5v6.0M191.72 60.5v6.0M229.32 60.5v6.0M266.92 60.5v6.0M304.52 60.5v6.0M342.12 60.5v6.0M379.72 60.5v6.0M100.5 540.50h6.0M382.5 540.50h-6.0M100.5 420.50h6.0M382.5 420.50h-6.0M100.5 300.50h6.0M382.5 300.50h-6.0M100.5 180.50h6.0M382.5 180.50h-6.0M100.5 60.50h6.0M382.5 60.50h-6.0" stroke="#000" stroke-width="0.85" fill="none"/>
<text x="116.52" y="50.40" font-size="17.6" text-anchor="middle" textLength="20.6" lengthAdjust="spacingAndGlyphs">14</text>
<text x="154.12" y="50.40" font-size="17.6" text-anchor="middle" textLength="20.6" lengthAdjust="spacingAndGlyphs">16</text>
<text x="191.72" y="50.40" font-size="17.6" text-anchor="middle" textLength="20.6" lengthAdjust="spacingAndGlyphs">18</text>
<text x="229.32" y="50.40" font-size="17.6" text-anchor="middle" textLength="20.6" lengthAdjust="spacingAndGlyphs">20</text>
<text x="266.92" y="50.40" font-size="17.6" text-anchor="middle" textLength="20.6" lengthAdjust="spacingAndGlyphs">22</text>
<text x="304.52" y="50.40" font-size="17.6" text-anchor="middle" textLength="20.6" lengthAdjust="spacingAndGlyphs">24</text>
<text x="342.12" y="50.40" font-size="17.6" text-anchor="middle" textLength="20.6" lengthAdjust="spacingAndGlyphs">26</text>
<text x="379.72" y="50.40" font-size="17.6" text-anchor="middle" textLength="20.6" lengthAdjust="spacingAndGlyphs">28</text>
<text x="100.50" y="559.70" font-size="17.6" text-anchor="middle" textLength="34.2" lengthAdjust="spacingAndGlyphs">−20</text>
<text x="138.10" y="559.70" font-size="17.6" text-anchor="middle" textLength="34.2" lengthAdjust="spacingAndGlyphs">−18</text>
<text x="175.70" y="559.70" font-size="17.6" text-anchor="middle" textLength="34.2" lengthAdjust="spacingAndGlyphs">−16</text>
<text x="213.30" y="559.70" font-size="17.6" text-anchor="middle" textLength="34.2" lengthAdjust="spacingAndGlyphs">−14</text>
<text x="250.90" y="559.70" font-size="17.6" text-anchor="middle" textLength="34.2" lengthAdjust="spacingAndGlyphs">−12</text>
<text x="288.50" y="559.70" font-size="17.6" text-anchor="middle" textLength="34.2" lengthAdjust="spacingAndGlyphs">−10</text>
<text x="326.10" y="559.70" font-size="17.6" text-anchor="middle" textLength="24.0" lengthAdjust="spacingAndGlyphs">−8</text>
<text x="363.70" y="559.70" font-size="17.6" text-anchor="middle" textLength="24.0" lengthAdjust="spacingAndGlyphs">−6</text>
<text x="95.00" y="545.00" font-size="17.6" text-anchor="end" textLength="10.3" lengthAdjust="spacingAndGlyphs">0</text>
<text x="95.00" y="425.00" font-size="17.6" text-anchor="end" textLength="10.3" lengthAdjust="spacingAndGlyphs">5</text>
<text x="95.00" y="305.00" font-size="17.6" text-anchor="end" textLength="20.6" lengthAdjust="spacingAndGlyphs">10</text>
<text x="95.00" y="65.00" font-size="17.6" text-anchor="end" textLength="20.6" lengthAdjust="spacingAndGlyphs">20</text>
<text x="226.80" y="29.20" font-size="20.4" text-anchor="middle" textLength="218.5" lengthAdjust="spacingAndGlyphs">FWHM vs magnitudes</text>
<text x="242.00" y="583.60" font-size="17.6" text-anchor="middle" textLength="294.0" lengthAdjust="spacingAndGlyphs">magnitude (bottom:isnt / top:calib)</text>
<text transform="translate(64.2 299.4) rotate(-90)" font-size="17.6" text-anchor="middle" textLength="95" lengthAdjust="spacingAndGlyphs">FWHM (pix)</text>
<g clip-path="url(#cr)">
<rect x="438.5" y="65.50" width="1.97" height="65.00" fill="#0000ff" stroke="#000" stroke-width="1.2"/>
<rect x="438.5" y="130.50" width="3.10" height="64.00" fill="#0000ff" stroke="#000" stroke-width="1.2"/>
<rect x="438.5" y="194.50" width="212.91" height="64.00" fill="#0000ff" stroke="#000" stroke-width="1.2"/>
<rect x="438.5" y="258.50" width="234.06" height="65.00" fill="#0000ff" stroke="#000" stroke-width="1.2"/>
<rect x="438.5" y="323.50" width="1.97" height="64.00" fill="#0000ff" stroke="#000" stroke-width="1.2"/>
<path d="M438.5 293.50H720.5" stroke="#000" stroke-width="1.39" stroke-dasharray="8.33 8.33" fill="none"/>
</g>
<rect x="438.5" y="60.5" width="282.0" height="480.0" fill="none" stroke="#000" stroke-width="1.39"/>
<path d="M438.50 540.5v-6.0M438.50 60.5v6.0M509.00 540.5v-6.0M509.00 60.5v6.0M579.50 540.5v-6.0M579.50 60.5v6.0M650.00 540.5v-6.0M650.00 60.5v6.0M720.50 540.5v-6.0M720.50 60.5v6.0M438.5 540.50h6.0M720.5 540.50h-6.0M438.5 480.50h6.0M720.5 480.50h-6.0M438.5 420.50h6.0M720.5 420.50h-6.0M438.5 360.50h6.0M720.5 360.50h-6.0M438.5 300.50h6.0M720.5 300.50h-6.0M438.5 240.50h6.0M720.5 240.50h-6.0M438.5 180.50h6.0M720.5 180.50h-6.0M438.5 120.50h6.0M720.5 120.50h-6.0M438.5 60.50h6.0M720.5 60.50h-6.0" stroke="#000" stroke-width="0.85" fill="none"/>
<text x="438.50" y="559.70" font-size="17.6" text-anchor="middle" textLength="10.2" lengthAdjust="spacingAndGlyphs">0</text>
<text x="509.00" y="559.70" font-size="17.6" text-anchor="middle" textLength="20.4" lengthAdjust="spacingAndGlyphs">50</text>
<text x="579.50" y="559.70" font-size="17.6" text-anchor="middle" textLength="30.6" lengthAdjust="spacingAndGlyphs">100</text>
<text x="650.00" y="559.70" font-size="17.6" text-anchor="middle" textLength="30.6" lengthAdjust="spacingAndGlyphs">150</text>
<text x="720.50" y="559.70" font-size="17.6" text-anchor="middle" textLength="30.6" lengthAdjust="spacingAndGlyphs">200</text>
<text x="433.00" y="545.00" font-size="17.6" text-anchor="end" textLength="25.3" lengthAdjust="spacingAndGlyphs">1.6</text>
<text x="433.00" y="485.00" font-size="17.6" text-anchor="end" textLength="25.3" lengthAdjust="spacingAndGlyphs">1.8</text>
<text x="433.00" y="425.00" font-size="17.6" text-anchor="end" textLength="25.3" lengthAdjust="spacingAndGlyphs">2.0</text>
<text x="433.00" y="365.00" font-size="17.6" text-anchor="end" textLength="25.3" lengthAdjust="spacingAndGlyphs">2.2</text>
<text x="433.00" y="305.00" font-size="17.6" text-anchor="end" textLength="25.3" lengthAdjust="spacingAndGlyphs">2.4</text>
<text x="433.00" y="245.00" font-size="17.6" text-anchor="end" textLength="25.3" lengthAdjust="spacingAndGlyphs">2.6</text>
<text x="433.00" y="185.00" font-size="17.6" text-anchor="end" textLength="25.3" lengthAdjust="spacingAndGlyphs">2.8</text>
<text x="433.00" y="125.00" font-size="17.6" text-anchor="end" textLength="25.3" lengthAdjust="spacingAndGlyphs">3.0</text>
<text x="433.00" y="65.00" font-size="17.6" text-anchor="end" textLength="25.3" lengthAdjust="spacingAndGlyphs">3.2</text>
<text x="580.00" y="53.30" font-size="20.4" text-anchor="middle" textLength="200.0" lengthAdjust="spacingAndGlyphs">histogram of FWHM</text>
<text x="579.50" y="583.60" font-size="17.6" text-anchor="middle" textLength="156.0" lengthAdjust="spacingAndGlyphs">number of sources</text>
<text transform="translate(396.4 300) rotate(-90)" font-size="17.6" text-anchor="middle" textLength="305" lengthAdjust="spacingAndGlyphs">FWHM of best-effort PSF-like sources</text>
<rect x="27.5" y="70.5" width="345" height="179.5" fill="#fff" stroke="#000" stroke-width="1.39"/>
<path d="M37 86.5h9M41.5 82v9M65 86.5h9M69.5 82v9" stroke="#00bfbf" stroke-width="1" stroke-opacity="0.78" fill="none"/>
<path d="M37.33 111.33l8.34 8.34m-8.34 0l8.34 -8.34M65.33 111.33l8.34 8.34m-8.34 0l8.34 -8.34" stroke="#0000ff" stroke-width="0.9" stroke-opacity="0.9" fill="none"/>
<circle cx="41.3" cy="144.4" r="4.2" fill="#bf00bf" stroke="#000" stroke-width="0.9"/>
<circle cx="69.3" cy="144.4" r="4.2" fill="#bf00bf" stroke="#000" stroke-width="0.9"/>
<path d="M41.3 173.5H69.3" stroke="#00f" stroke-width="1.39" stroke-dasharray="8.33 8.33" fill="none"/>
<path d="M41.3 202.6H69.3" stroke="#f00" stroke-width="1.39" stroke-dasharray="8.33 8.33" fill="none"/>
<path d="M41.3 231.7H69.3" stroke="#00f" stroke-width="1.39" stroke-dasharray="4.17 6.94 1.39 6.94" fill="none"/>
<text x="91.00" y="92.80" font-size="20.3" text-anchor="start" textLength="103.2" lengthAdjust="spacingAndGlyphs">all sample</text>
<text x="91.00" y="121.90" font-size="20.3" text-anchor="start" textLength="242.8" lengthAdjust="spacingAndGlyphs">sample for rough FWHM</text>
<text x="91.00" y="151.00" font-size="20.3" text-anchor="start" textLength="269.3" lengthAdjust="spacingAndGlyphs">best-effort PSF-like sample</text>
<text x="91.00" y="180.10" font-size="20.3" text-anchor="start" textLength="217.3" lengthAdjust="spacingAndGlyphs">resultant FWHM: 2.42</text>
<text x="91.00" y="209.20" font-size="20.3" text-anchor="start" textLength="275.0" lengthAdjust="spacingAndGlyphs">median FHWM of sequence</text>
<text x="91.00" y="238.30" font-size="20.3" text-anchor="start" textLength="126.0" lengthAdjust="spacingAndGlyphs">sigma range</text>
</svg>
</body></html>
